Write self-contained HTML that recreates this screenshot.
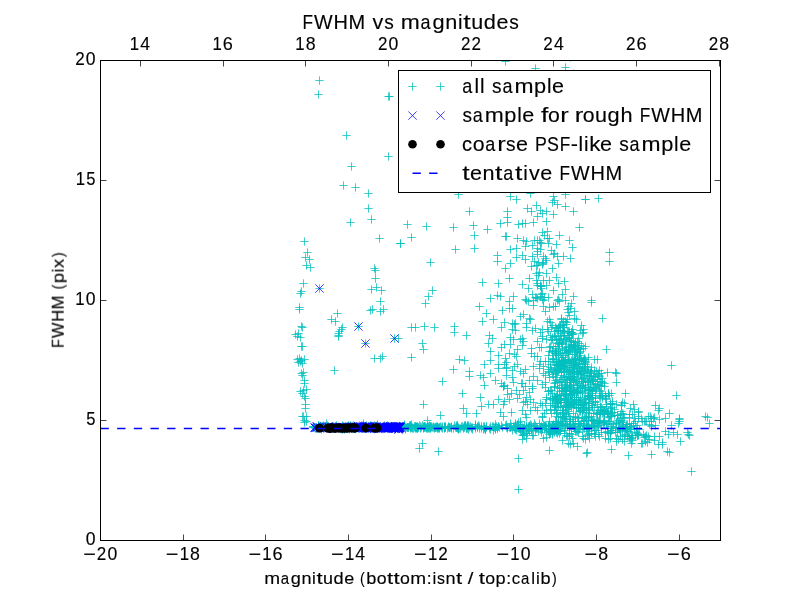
<!DOCTYPE html>
<html><head><meta charset="utf-8"><title>FWHM vs magnitudes</title>
<style>
html,body{margin:0;padding:0;background:#fff;}
body{width:800px;height:600px;overflow:hidden;}
svg{display:block;}
text{font-family:"Liberation Sans",sans-serif;fill:#000;stroke:#000;stroke-width:0.15px;}
</style></head><body>
<svg width="800" height="600" viewBox="0 0 800 600">
<rect width="800" height="600" fill="#fff"/>
<defs><clipPath id="ax"><rect x="100.5" y="60.5" width="620" height="480"/></clipPath></defs>
<g clip-path="url(#ax)">
<path d="M315.33 80.5h8.34M319.5 76.33v8.34M314.33 94.5h8.34M318.5 90.33v8.34M384.33 96.5h8.34M388.5 92.33v8.34M385.33 96.5h8.34M389.5 92.33v8.34M342.33 135.5h8.34M346.5 131.33v8.34M384.33 156.5h8.34M388.5 152.33v8.34M347.33 166.5h8.34M351.5 162.33v8.34M339.33 185.5h8.34M343.5 181.33v8.34M351.33 187.5h8.34M355.5 183.33v8.34M364.33 193.5h8.34M368.5 189.33v8.34M364.33 208.5h8.34M368.5 204.33v8.34M367.33 219.5h8.34M371.5 215.33v8.34M346.33 222.5h8.34M350.5 218.33v8.34M403.33 224.5h8.34M407.5 220.33v8.34M422.33 226.5h8.34M426.5 222.33v8.34M407.33 237.5h8.34M411.5 233.33v8.34M396.33 243.5h8.34M400.5 239.33v8.34M396.33 243.5h8.34M400.5 239.33v8.34M375.33 238.5h8.34M379.5 234.33v8.34M300.33 241.5h8.34M304.5 237.33v8.34M303.33 252.5h8.34M307.5 248.33v8.34M301.33 257.5h8.34M305.5 253.33v8.34M305.33 259.5h8.34M309.5 255.33v8.34M302.33 265.5h8.34M306.5 261.33v8.34M306.33 267.5h8.34M310.5 263.33v8.34M426.33 262.5h8.34M430.5 258.33v8.34M370.33 268.5h8.34M374.5 264.33v8.34M371.33 270.5h8.34M375.5 266.33v8.34M371.33 278.5h8.34M375.5 274.33v8.34M299.33 283.5h8.34M303.5 279.33v8.34M315.33 288.5h8.34M319.5 284.33v8.34M297.33 291.5h8.34M301.5 287.33v8.34M296.33 293.5h8.34M300.5 289.33v8.34M367.33 289.5h8.34M371.5 285.33v8.34M372.33 287.5h8.34M376.5 283.33v8.34M377.33 290.5h8.34M381.5 286.33v8.34M428.33 290.5h8.34M432.5 286.33v8.34M424.33 296.5h8.34M428.5 292.33v8.34M295.33 307.5h8.34M299.5 303.33v8.34M295.33 309.5h8.34M299.5 305.33v8.34M376.33 301.5h8.34M380.5 297.33v8.34M421.33 303.5h8.34M425.5 299.33v8.34M366.33 310.5h8.34M370.5 306.33v8.34M368.33 309.5h8.34M372.5 305.33v8.34M376.33 311.5h8.34M380.5 307.33v8.34M379.33 309.5h8.34M383.5 305.33v8.34M333.33 313.5h8.34M337.5 309.33v8.34M327.33 319.5h8.34M331.5 315.33v8.34M331.33 321.5h8.34M335.5 317.33v8.34M354.33 326.5h8.34M358.5 322.33v8.34M297.33 326.5h8.34M301.5 322.33v8.34M298.33 327.5h8.34M302.5 323.33v8.34M338.33 327.5h8.34M342.5 323.33v8.34M337.33 329.5h8.34M341.5 325.33v8.34M335.33 331.5h8.34M339.5 327.33v8.34M334.33 333.5h8.34M338.5 329.33v8.34M334.33 335.5h8.34M338.5 331.33v8.34M334.33 336.5h8.34M338.5 332.33v8.34M291.33 334.5h8.34M295.5 330.33v8.34M294.33 333.5h8.34M298.5 329.33v8.34M296.33 337.5h8.34M300.5 333.33v8.34M293.33 336.5h8.34M297.5 332.33v8.34M407.33 327.5h8.34M411.5 323.33v8.34M411.33 327.5h8.34M415.5 323.33v8.34M420.33 326.5h8.34M424.5 322.33v8.34M430.33 327.5h8.34M434.5 323.33v8.34M390.33 338.5h8.34M394.5 334.33v8.34M394.33 338.5h8.34M398.5 334.33v8.34M361.33 343.5h8.34M365.5 339.33v8.34M418.33 343.5h8.34M422.5 339.33v8.34M419.33 349.5h8.34M423.5 345.33v8.34M297.33 346.5h8.34M301.5 342.33v8.34M298.33 346.5h8.34M302.5 342.33v8.34M370.33 358.5h8.34M374.5 354.33v8.34M376.33 358.5h8.34M380.5 354.33v8.34M378.33 356.5h8.34M382.5 352.33v8.34M407.33 357.5h8.34M411.5 353.33v8.34M293.33 359.5h8.34M297.5 355.33v8.34M295.33 358.5h8.34M299.5 354.33v8.34M297.33 360.5h8.34M301.5 356.33v8.34M300.33 359.5h8.34M304.5 355.33v8.34M298.33 363.5h8.34M302.5 359.33v8.34M296.33 361.5h8.34M300.5 357.33v8.34M294.33 362.5h8.34M298.5 358.33v8.34M330.33 370.5h8.34M334.5 366.33v8.34M297.33 373.5h8.34M301.5 369.33v8.34M299.33 372.5h8.34M303.5 368.33v8.34M298.33 375.5h8.34M302.5 371.33v8.34M300.33 380.5h8.34M304.5 376.33v8.34M300.33 383.5h8.34M304.5 379.33v8.34M438.33 381.5h8.34M442.5 377.33v8.34M296.33 391.5h8.34M300.5 387.33v8.34M299.33 390.5h8.34M303.5 386.33v8.34M302.33 389.5h8.34M306.5 385.33v8.34M298.33 393.5h8.34M302.5 389.33v8.34M300.33 396.5h8.34M304.5 392.33v8.34M301.33 398.5h8.34M305.5 394.33v8.34M419.33 404.5h8.34M423.5 400.33v8.34M301.33 404.5h8.34M305.5 400.33v8.34M301.33 408.5h8.34M305.5 404.33v8.34M298.33 416.5h8.34M302.5 412.33v8.34M302.33 416.5h8.34M306.5 412.33v8.34M436.33 415.5h8.34M440.5 411.33v8.34M299.33 416.5h8.34M303.5 412.33v8.34M300.33 420.5h8.34M304.5 416.33v8.34M302.33 421.5h8.34M306.5 417.33v8.34M423.33 420.5h8.34M427.5 416.33v8.34M322.33 423.5h8.34M326.5 419.33v8.34M359.33 423.5h8.34M363.5 419.33v8.34M418.33 443.5h8.34M422.5 439.33v8.34M415.33 448.5h8.34M419.5 444.33v8.34M434.33 451.5h8.34M438.5 447.33v8.34M300.33 422.5h8.34M304.5 418.33v8.34M501.33 61.5h8.34M505.5 57.33v8.34M531.33 68.5h8.34M535.5 64.33v8.34M561.33 67.5h8.34M565.5 63.33v8.34M569.33 73.5h8.34M573.5 69.33v8.34M566.33 57.5h8.34M570.5 53.33v8.34M454.33 194.5h8.34M458.5 190.33v8.34M506.33 196.5h8.34M510.5 192.33v8.34M512.33 199.5h8.34M516.5 195.33v8.34M526.33 193.5h8.34M530.5 189.33v8.34M549.33 196.5h8.34M553.5 192.33v8.34M550.33 200.5h8.34M554.5 196.33v8.34M548.33 202.5h8.34M552.5 198.33v8.34M553.33 204.5h8.34M557.5 200.33v8.34M561.33 206.5h8.34M565.5 202.33v8.34M561.33 194.5h8.34M565.5 190.33v8.34M581.33 199.5h8.34M585.5 195.33v8.34M594.33 198.5h8.34M598.5 194.33v8.34M465.33 211.5h8.34M469.5 207.33v8.34M503.33 211.5h8.34M507.5 207.33v8.34M503.33 217.5h8.34M507.5 213.33v8.34M503.33 222.5h8.34M507.5 218.33v8.34M523.33 208.5h8.34M527.5 204.33v8.34M527.33 211.5h8.34M531.5 207.33v8.34M532.33 205.5h8.34M536.5 201.33v8.34M536.33 210.5h8.34M540.5 206.33v8.34M538.33 213.5h8.34M542.5 209.33v8.34M542.33 211.5h8.34M546.5 207.33v8.34M533.33 216.5h8.34M537.5 212.33v8.34M549.33 214.5h8.34M553.5 210.33v8.34M569.33 211.5h8.34M573.5 207.33v8.34M542.33 221.5h8.34M546.5 217.33v8.34M496.33 223.5h8.34M500.5 219.33v8.34M514.33 224.5h8.34M518.5 220.33v8.34M518.33 223.5h8.34M522.5 219.33v8.34M521.33 223.5h8.34M525.5 219.33v8.34M529.33 222.5h8.34M533.5 218.33v8.34M449.33 227.5h8.34M453.5 223.33v8.34M469.33 225.5h8.34M473.5 221.33v8.34M483.33 229.5h8.34M487.5 225.33v8.34M575.33 227.5h8.34M579.5 223.33v8.34M470.33 235.5h8.34M474.5 231.33v8.34M501.33 236.5h8.34M505.5 232.33v8.34M502.33 236.5h8.34M506.5 232.33v8.34M513.33 238.5h8.34M517.5 234.33v8.34M519.33 240.5h8.34M523.5 236.33v8.34M522.33 241.5h8.34M526.5 237.33v8.34M538.33 232.5h8.34M542.5 228.33v8.34M543.33 231.5h8.34M547.5 227.33v8.34M540.33 235.5h8.34M544.5 231.33v8.34M555.33 235.5h8.34M559.5 231.33v8.34M533.33 240.5h8.34M537.5 236.33v8.34M536.33 242.5h8.34M540.5 238.33v8.34M543.33 238.5h8.34M547.5 234.33v8.34M544.33 243.5h8.34M548.5 239.33v8.34M565.33 240.5h8.34M569.5 236.33v8.34M451.33 249.5h8.34M455.5 245.33v8.34M470.33 248.5h8.34M474.5 244.33v8.34M506.33 249.5h8.34M510.5 245.33v8.34M512.33 248.5h8.34M516.5 244.33v8.34M521.33 246.5h8.34M525.5 242.33v8.34M528.33 245.5h8.34M532.5 241.33v8.34M552.33 244.5h8.34M556.5 240.33v8.34M547.33 250.5h8.34M551.5 246.33v8.34M568.33 247.5h8.34M572.5 243.33v8.34M493.33 255.5h8.34M497.5 251.33v8.34M493.33 261.5h8.34M497.5 257.33v8.34M518.33 255.5h8.34M522.5 251.33v8.34M512.33 257.5h8.34M516.5 253.33v8.34M533.33 254.5h8.34M537.5 250.33v8.34M536.33 249.5h8.34M540.5 245.33v8.34M553.33 256.5h8.34M557.5 252.33v8.34M559.33 256.5h8.34M563.5 252.33v8.34M566.33 258.5h8.34M570.5 254.33v8.34M506.33 263.5h8.34M510.5 259.33v8.34M501.33 268.5h8.34M505.5 264.33v8.34M530.33 261.5h8.34M534.5 257.33v8.34M527.33 266.5h8.34M531.5 262.33v8.34M533.33 265.5h8.34M537.5 261.33v8.34M538.33 263.5h8.34M542.5 259.33v8.34M554.33 263.5h8.34M558.5 259.33v8.34M548.33 268.5h8.34M552.5 264.33v8.34M505.33 278.5h8.34M509.5 274.33v8.34M478.33 282.5h8.34M482.5 278.33v8.34M494.33 283.5h8.34M498.5 279.33v8.34M518.33 284.5h8.34M522.5 280.33v8.34M525.33 278.5h8.34M529.5 274.33v8.34M533.33 283.5h8.34M537.5 279.33v8.34M539.33 280.5h8.34M543.5 276.33v8.34M536.33 286.5h8.34M540.5 282.33v8.34M552.33 277.5h8.34M556.5 273.33v8.34M560.33 281.5h8.34M564.5 277.33v8.34M524.33 288.5h8.34M528.5 284.33v8.34M561.33 289.5h8.34M565.5 285.33v8.34M549.33 290.5h8.34M553.5 286.33v8.34M493.33 295.5h8.34M497.5 291.33v8.34M496.33 296.5h8.34M500.5 292.33v8.34M509.33 296.5h8.34M513.5 292.33v8.34M528.33 294.5h8.34M532.5 290.33v8.34M536.33 296.5h8.34M540.5 292.33v8.34M558.33 294.5h8.34M562.5 290.33v8.34M569.33 296.5h8.34M573.5 292.33v8.34M486.33 298.5h8.34M490.5 294.33v8.34M475.33 306.5h8.34M479.5 302.33v8.34M482.33 313.5h8.34M486.5 309.33v8.34M478.33 321.5h8.34M482.5 317.33v8.34M489.33 319.5h8.34M493.5 315.33v8.34M450.33 326.5h8.34M454.5 322.33v8.34M450.33 332.5h8.34M454.5 328.33v8.34M462.33 335.5h8.34M466.5 331.33v8.34M505.33 308.5h8.34M509.5 304.33v8.34M508.33 308.5h8.34M512.5 304.33v8.34M500.33 322.5h8.34M504.5 318.33v8.34M497.33 327.5h8.34M501.5 323.33v8.34M510.33 324.5h8.34M514.5 320.33v8.34M519.33 314.5h8.34M523.5 310.33v8.34M484.33 343.5h8.34M488.5 339.33v8.34M500.33 344.5h8.34M504.5 340.33v8.34M486.33 351.5h8.34M490.5 347.33v8.34M494.33 355.5h8.34M498.5 351.33v8.34M455.33 359.5h8.34M459.5 355.33v8.34M460.33 360.5h8.34M464.5 356.33v8.34M449.33 369.5h8.34M453.5 365.33v8.34M465.33 371.5h8.34M469.5 367.33v8.34M465.33 376.5h8.34M469.5 372.33v8.34M480.33 364.5h8.34M484.5 360.33v8.34M494.33 364.5h8.34M498.5 360.33v8.34M502.33 367.5h8.34M506.5 363.33v8.34M502.33 375.5h8.34M506.5 371.33v8.34M476.33 375.5h8.34M480.5 371.33v8.34M479.33 377.5h8.34M483.5 373.33v8.34M486.33 373.5h8.34M490.5 369.33v8.34M491.33 380.5h8.34M495.5 376.33v8.34M497.33 383.5h8.34M501.5 379.33v8.34M480.33 385.5h8.34M484.5 381.33v8.34M509.33 382.5h8.34M513.5 378.33v8.34M458.33 393.5h8.34M462.5 389.33v8.34M494.33 399.5h8.34M498.5 395.33v8.34M499.33 404.5h8.34M503.5 400.33v8.34M459.33 408.5h8.34M463.5 404.33v8.34M462.33 413.5h8.34M466.5 409.33v8.34M472.33 413.5h8.34M476.5 409.33v8.34M505.33 353.5h8.34M509.5 349.33v8.34M512.33 356.5h8.34M516.5 352.33v8.34M521.33 369.5h8.34M525.5 365.33v8.34M516.33 371.5h8.34M520.5 367.33v8.34M527.33 353.5h8.34M531.5 349.33v8.34M514.33 458.5h8.34M518.5 454.33v8.34M514.33 489.5h8.34M518.5 485.33v8.34M518.33 439.5h8.34M522.5 435.33v8.34M582.33 453.5h8.34M586.5 449.33v8.34M573.33 446.5h8.34M577.5 442.33v8.34M581.33 199.5h8.34M585.5 195.33v8.34M605.33 252.5h8.34M609.5 248.33v8.34M605.33 261.5h8.34M609.5 257.33v8.34M587.33 300.5h8.34M591.5 296.33v8.34M587.33 302.5h8.34M591.5 298.33v8.34M598.33 318.5h8.34M602.5 314.33v8.34M602.33 349.5h8.34M606.5 345.33v8.34M667.33 365.5h8.34M671.5 361.33v8.34M672.33 395.5h8.34M676.5 391.33v8.34M611.33 372.5h8.34M615.5 368.33v8.34M612.33 373.5h8.34M616.5 369.33v8.34M612.33 382.5h8.34M616.5 378.33v8.34M590.33 359.5h8.34M594.5 355.33v8.34M593.33 359.5h8.34M597.5 355.33v8.34M595.33 370.5h8.34M599.5 366.33v8.34M621.33 393.5h8.34M625.5 389.33v8.34M620.33 403.5h8.34M624.5 399.33v8.34M651.33 405.5h8.34M655.5 401.33v8.34M654.33 410.5h8.34M658.5 406.33v8.34M665.33 413.5h8.34M669.5 409.33v8.34M644.33 416.5h8.34M648.5 412.33v8.34M701.33 416.5h8.34M705.5 412.33v8.34M703.33 417.5h8.34M707.5 413.33v8.34M675.33 418.5h8.34M679.5 414.33v8.34M630.33 409.5h8.34M634.5 405.33v8.34M634.33 411.5h8.34M638.5 407.33v8.34M626.33 408.5h8.34M630.5 404.33v8.34M687.33 471.5h8.34M691.5 467.33v8.34M624.33 455.5h8.34M628.5 451.33v8.34M647.33 454.5h8.34M651.5 450.33v8.34M663.33 451.5h8.34M667.5 447.33v8.34M665.33 452.5h8.34M669.5 448.33v8.34M676.33 441.5h8.34M680.5 437.33v8.34M654.33 444.5h8.34M658.5 440.33v8.34M628.33 440.5h8.34M632.5 436.33v8.34M583.33 452.5h8.34M587.5 448.33v8.34M607.33 449.5h8.34M611.5 445.33v8.34M684.33 434.5h8.34M688.5 430.33v8.34M685.33 435.5h8.34M689.5 431.33v8.34M683.33 432.5h8.34M687.5 428.33v8.34M673.33 434.5h8.34M677.5 430.33v8.34M669.33 432.5h8.34M673.5 428.33v8.34M661.33 431.5h8.34M665.5 427.33v8.34M655.33 436.5h8.34M659.5 432.33v8.34M667.33 425.5h8.34M671.5 421.33v8.34M675.33 419.5h8.34M679.5 415.33v8.34M675.33 421.5h8.34M679.5 417.33v8.34M674.33 423.5h8.34M678.5 419.33v8.34M705.33 423.5h8.34M709.5 419.33v8.34M655.33 419.5h8.34M659.5 415.33v8.34M647.33 421.5h8.34M651.5 417.33v8.34M641.33 421.5h8.34M645.5 417.33v8.34M639.33 434.5h8.34M643.5 430.33v8.34M641.33 436.5h8.34M645.5 432.33v8.34M645.33 439.5h8.34M649.5 435.33v8.34M650.33 440.5h8.34M654.5 436.33v8.34M388.33 428.5h8.34M392.5 424.33v8.34M326.33 428.5h8.34M330.5 424.33v8.34M441.33 427.5h8.34M445.5 423.33v8.34M434.33 427.5h8.34M438.5 423.33v8.34M318.33 426.5h8.34M322.5 422.33v8.34M331.33 427.5h8.34M335.5 423.33v8.34M413.33 427.5h8.34M417.5 423.33v8.34M364.33 426.5h8.34M368.5 422.33v8.34M463.33 428.5h8.34M467.5 424.33v8.34M406.33 426.5h8.34M410.5 422.33v8.34M550.33 432.5h8.34M554.5 428.33v8.34M380.33 427.5h8.34M384.5 423.33v8.34M344.33 427.5h8.34M348.5 423.33v8.34M510.33 428.5h8.34M514.5 424.33v8.34M353.33 426.5h8.34M357.5 422.33v8.34M400.33 426.5h8.34M404.5 422.33v8.34M444.33 427.5h8.34M448.5 423.33v8.34M359.33 427.5h8.34M363.5 423.33v8.34M477.33 426.5h8.34M481.5 422.33v8.34M453.33 427.5h8.34M457.5 423.33v8.34M420.33 426.5h8.34M424.5 422.33v8.34M481.33 429.5h8.34M485.5 425.33v8.34M369.33 426.5h8.34M373.5 422.33v8.34M525.33 426.5h8.34M529.5 422.33v8.34M489.33 426.5h8.34M493.5 422.33v8.34M338.33 429.5h8.34M342.5 425.33v8.34M412.33 427.5h8.34M416.5 423.33v8.34M429.33 426.5h8.34M433.5 422.33v8.34M318.33 426.5h8.34M322.5 422.33v8.34M450.33 425.5h8.34M454.5 421.33v8.34M525.33 425.5h8.34M529.5 421.33v8.34M455.33 428.5h8.34M459.5 424.33v8.34M452.33 425.5h8.34M456.5 421.33v8.34M542.33 428.5h8.34M546.5 424.33v8.34M426.33 427.5h8.34M430.5 423.33v8.34M482.33 426.5h8.34M486.5 422.33v8.34M468.33 429.5h8.34M472.5 425.33v8.34M379.33 427.5h8.34M383.5 423.33v8.34M404.33 427.5h8.34M408.5 423.33v8.34M423.33 427.5h8.34M427.5 423.33v8.34M350.33 427.5h8.34M354.5 423.33v8.34M498.33 427.5h8.34M502.5 423.33v8.34M340.33 427.5h8.34M344.5 423.33v8.34M524.33 429.5h8.34M528.5 425.33v8.34M328.33 426.5h8.34M332.5 422.33v8.34M527.33 428.5h8.34M531.5 424.33v8.34M511.33 428.5h8.34M515.5 424.33v8.34M411.33 426.5h8.34M415.5 422.33v8.34M397.33 428.5h8.34M401.5 424.33v8.34M346.33 425.5h8.34M350.5 421.33v8.34M352.33 427.5h8.34M356.5 423.33v8.34M428.33 427.5h8.34M432.5 423.33v8.34M454.33 427.5h8.34M458.5 423.33v8.34M412.33 427.5h8.34M416.5 423.33v8.34M400.33 425.5h8.34M404.5 421.33v8.34M479.33 426.5h8.34M483.5 422.33v8.34M436.33 426.5h8.34M440.5 422.33v8.34M322.33 426.5h8.34M326.5 422.33v8.34M531.33 428.5h8.34M535.5 424.33v8.34M506.33 423.5h8.34M510.5 419.33v8.34M405.33 426.5h8.34M409.5 422.33v8.34M465.33 427.5h8.34M469.5 423.33v8.34M324.33 427.5h8.34M328.5 423.33v8.34M349.33 427.5h8.34M353.5 423.33v8.34M392.33 427.5h8.34M396.5 423.33v8.34M346.33 427.5h8.34M350.5 423.33v8.34M334.33 427.5h8.34M338.5 423.33v8.34M524.33 427.5h8.34M528.5 423.33v8.34M460.33 427.5h8.34M464.5 423.33v8.34M394.33 427.5h8.34M398.5 423.33v8.34M398.33 428.5h8.34M402.5 424.33v8.34M554.33 431.5h8.34M558.5 427.33v8.34M424.33 426.5h8.34M428.5 422.33v8.34M334.33 427.5h8.34M338.5 423.33v8.34M393.33 427.5h8.34M397.5 423.33v8.34M348.33 428.5h8.34M352.5 424.33v8.34M314.33 428.5h8.34M318.5 424.33v8.34M345.33 426.5h8.34M349.5 422.33v8.34M443.33 428.5h8.34M447.5 424.33v8.34M550.33 427.5h8.34M554.5 423.33v8.34M522.33 426.5h8.34M526.5 422.33v8.34M399.33 426.5h8.34M403.5 422.33v8.34M350.33 427.5h8.34M354.5 423.33v8.34M501.33 425.5h8.34M505.5 421.33v8.34M390.33 427.5h8.34M394.5 423.33v8.34M552.33 432.5h8.34M556.5 428.33v8.34M519.33 428.5h8.34M523.5 424.33v8.34M491.33 424.5h8.34M495.5 420.33v8.34M365.33 426.5h8.34M369.5 422.33v8.34M316.33 427.5h8.34M320.5 423.33v8.34M315.33 427.5h8.34M319.5 423.33v8.34M480.33 428.5h8.34M484.5 424.33v8.34M545.33 421.5h8.34M549.5 417.33v8.34M553.33 429.5h8.34M557.5 425.33v8.34M544.33 426.5h8.34M548.5 422.33v8.34M365.33 427.5h8.34M369.5 423.33v8.34M357.33 427.5h8.34M361.5 423.33v8.34M531.33 430.5h8.34M535.5 426.33v8.34M516.33 424.5h8.34M520.5 420.33v8.34M506.33 427.5h8.34M510.5 423.33v8.34M329.33 426.5h8.34M333.5 422.33v8.34M502.33 424.5h8.34M506.5 420.33v8.34M494.33 426.5h8.34M498.5 422.33v8.34M503.33 427.5h8.34M507.5 423.33v8.34M391.33 428.5h8.34M395.5 424.33v8.34M406.33 425.5h8.34M410.5 421.33v8.34M408.33 428.5h8.34M412.5 424.33v8.34M350.33 426.5h8.34M354.5 422.33v8.34M340.33 428.5h8.34M344.5 424.33v8.34M508.33 430.5h8.34M512.5 426.33v8.34M345.33 428.5h8.34M349.5 424.33v8.34M471.33 424.5h8.34M475.5 420.33v8.34M395.33 426.5h8.34M399.5 422.33v8.34M312.33 427.5h8.34M316.5 423.33v8.34M548.33 425.5h8.34M552.5 421.33v8.34M539.33 424.5h8.34M543.5 420.33v8.34M416.33 428.5h8.34M420.5 424.33v8.34M361.33 426.5h8.34M365.5 422.33v8.34M371.33 427.5h8.34M375.5 423.33v8.34M453.33 427.5h8.34M457.5 423.33v8.34M373.33 426.5h8.34M377.5 422.33v8.34M533.33 427.5h8.34M537.5 423.33v8.34M396.33 426.5h8.34M400.5 422.33v8.34M532.33 428.5h8.34M536.5 424.33v8.34M412.33 428.5h8.34M416.5 424.33v8.34M440.33 426.5h8.34M444.5 422.33v8.34M438.33 428.5h8.34M442.5 424.33v8.34M354.33 427.5h8.34M358.5 423.33v8.34M309.33 427.5h8.34M313.5 423.33v8.34M425.33 426.5h8.34M429.5 422.33v8.34M488.33 426.5h8.34M492.5 422.33v8.34M437.33 427.5h8.34M441.5 423.33v8.34M446.33 427.5h8.34M450.5 423.33v8.34M447.33 426.5h8.34M451.5 422.33v8.34M370.33 427.5h8.34M374.5 423.33v8.34M434.33 428.5h8.34M438.5 424.33v8.34M447.33 427.5h8.34M451.5 423.33v8.34M418.33 425.5h8.34M422.5 421.33v8.34M460.33 426.5h8.34M464.5 422.33v8.34M480.33 427.5h8.34M484.5 423.33v8.34M420.33 426.5h8.34M424.5 422.33v8.34M541.33 426.5h8.34M545.5 422.33v8.34M481.33 429.5h8.34M485.5 425.33v8.34M373.33 425.5h8.34M377.5 421.33v8.34M447.33 428.5h8.34M451.5 424.33v8.34M342.33 426.5h8.34M346.5 422.33v8.34M339.33 426.5h8.34M343.5 422.33v8.34M368.33 427.5h8.34M372.5 423.33v8.34M327.33 426.5h8.34M331.5 422.33v8.34M530.33 423.5h8.34M534.5 419.33v8.34M347.33 427.5h8.34M351.5 423.33v8.34M344.33 426.5h8.34M348.5 422.33v8.34M527.33 428.5h8.34M531.5 424.33v8.34M544.33 426.5h8.34M548.5 422.33v8.34M407.33 424.5h8.34M411.5 420.33v8.34M514.33 427.5h8.34M518.5 423.33v8.34M348.33 426.5h8.34M352.5 422.33v8.34M392.33 427.5h8.34M396.5 423.33v8.34M357.33 426.5h8.34M361.5 422.33v8.34M313.33 428.5h8.34M317.5 424.33v8.34M445.33 427.5h8.34M449.5 423.33v8.34M390.33 427.5h8.34M394.5 423.33v8.34M463.33 426.5h8.34M467.5 422.33v8.34M552.33 427.5h8.34M556.5 423.33v8.34M503.33 428.5h8.34M507.5 424.33v8.34M374.33 427.5h8.34M378.5 423.33v8.34M318.33 427.5h8.34M322.5 423.33v8.34M341.33 426.5h8.34M345.5 422.33v8.34M413.33 428.5h8.34M417.5 424.33v8.34M372.33 426.5h8.34M376.5 422.33v8.34M345.33 428.5h8.34M349.5 424.33v8.34M482.33 426.5h8.34M486.5 422.33v8.34M331.33 428.5h8.34M335.5 424.33v8.34M414.33 427.5h8.34M418.5 423.33v8.34M326.33 428.5h8.34M330.5 424.33v8.34M507.33 426.5h8.34M511.5 422.33v8.34M329.33 427.5h8.34M333.5 423.33v8.34M522.33 426.5h8.34M526.5 422.33v8.34M421.33 426.5h8.34M425.5 422.33v8.34M537.33 429.5h8.34M541.5 425.33v8.34M375.33 428.5h8.34M379.5 424.33v8.34M367.33 428.5h8.34M371.5 424.33v8.34M336.33 427.5h8.34M340.5 423.33v8.34M358.33 427.5h8.34M362.5 423.33v8.34M386.33 426.5h8.34M390.5 422.33v8.34M380.33 428.5h8.34M384.5 424.33v8.34M432.33 427.5h8.34M436.5 423.33v8.34M313.33 428.5h8.34M317.5 424.33v8.34M370.33 428.5h8.34M374.5 424.33v8.34M445.33 427.5h8.34M449.5 423.33v8.34M355.33 425.5h8.34M359.5 421.33v8.34M335.33 427.5h8.34M339.5 423.33v8.34M511.33 425.5h8.34M515.5 421.33v8.34M515.33 428.5h8.34M519.5 424.33v8.34M406.33 425.5h8.34M410.5 421.33v8.34M551.33 427.5h8.34M555.5 423.33v8.34M393.33 427.5h8.34M397.5 423.33v8.34M466.33 426.5h8.34M470.5 422.33v8.34M408.33 427.5h8.34M412.5 423.33v8.34M341.33 427.5h8.34M345.5 423.33v8.34M326.33 427.5h8.34M330.5 423.33v8.34M349.33 426.5h8.34M353.5 422.33v8.34M329.33 428.5h8.34M333.5 424.33v8.34M474.33 425.5h8.34M478.5 421.33v8.34M378.33 427.5h8.34M382.5 423.33v8.34M422.33 428.5h8.34M426.5 424.33v8.34M347.33 426.5h8.34M351.5 422.33v8.34M546.33 428.5h8.34M550.5 424.33v8.34M549.33 425.5h8.34M553.5 421.33v8.34M547.33 426.5h8.34M551.5 422.33v8.34M385.33 427.5h8.34M389.5 423.33v8.34M403.33 427.5h8.34M407.5 423.33v8.34M426.33 426.5h8.34M430.5 422.33v8.34M433.33 427.5h8.34M437.5 423.33v8.34M310.33 427.5h8.34M314.5 423.33v8.34M407.33 427.5h8.34M411.5 423.33v8.34M319.33 428.5h8.34M323.5 424.33v8.34M366.33 427.5h8.34M370.5 423.33v8.34M453.33 425.5h8.34M457.5 421.33v8.34M471.33 426.5h8.34M475.5 422.33v8.34M485.33 428.5h8.34M489.5 424.33v8.34M389.33 426.5h8.34M393.5 422.33v8.34M552.33 429.5h8.34M556.5 425.33v8.34M467.33 428.5h8.34M471.5 424.33v8.34M319.33 428.5h8.34M323.5 424.33v8.34M463.33 425.5h8.34M467.5 421.33v8.34M490.33 427.5h8.34M494.5 423.33v8.34M438.33 426.5h8.34M442.5 422.33v8.34M433.33 428.5h8.34M437.5 424.33v8.34M513.33 424.5h8.34M517.5 420.33v8.34M453.33 428.5h8.34M457.5 424.33v8.34M480.33 426.5h8.34M484.5 422.33v8.34M365.33 427.5h8.34M369.5 423.33v8.34M398.33 427.5h8.34M402.5 423.33v8.34M334.33 427.5h8.34M338.5 423.33v8.34M464.33 426.5h8.34M468.5 422.33v8.34M463.33 426.5h8.34M467.5 422.33v8.34M309.33 426.5h8.34M313.5 422.33v8.34M506.33 427.5h8.34M510.5 423.33v8.34M441.33 426.5h8.34M445.5 422.33v8.34M471.33 428.5h8.34M475.5 424.33v8.34M371.33 427.5h8.34M375.5 423.33v8.34M327.33 427.5h8.34M331.5 423.33v8.34M359.33 428.5h8.34M363.5 424.33v8.34M491.33 428.5h8.34M495.5 424.33v8.34M403.33 427.5h8.34M407.5 423.33v8.34M427.33 426.5h8.34M431.5 422.33v8.34M461.33 425.5h8.34M465.5 421.33v8.34M467.33 427.5h8.34M471.5 423.33v8.34M371.33 427.5h8.34M375.5 423.33v8.34M492.33 426.5h8.34M496.5 422.33v8.34M312.33 428.5h8.34M316.5 424.33v8.34M323.33 427.5h8.34M327.5 423.33v8.34M479.33 429.5h8.34M483.5 425.33v8.34M475.33 426.5h8.34M479.5 422.33v8.34M423.33 428.5h8.34M427.5 424.33v8.34M424.33 428.5h8.34M428.5 424.33v8.34M358.33 428.5h8.34M362.5 424.33v8.34M550.33 427.5h8.34M554.5 423.33v8.34M422.33 427.5h8.34M426.5 423.33v8.34M511.33 429.5h8.34M515.5 425.33v8.34M375.33 427.5h8.34M379.5 423.33v8.34M360.33 427.5h8.34M364.5 423.33v8.34M452.33 427.5h8.34M456.5 423.33v8.34M344.33 425.5h8.34M348.5 421.33v8.34M341.33 426.5h8.34M345.5 422.33v8.34M511.33 423.5h8.34M515.5 419.33v8.34M482.33 427.5h8.34M486.5 423.33v8.34M366.33 428.5h8.34M370.5 424.33v8.34M315.33 426.5h8.34M319.5 422.33v8.34M309.33 426.5h8.34M313.5 422.33v8.34M383.33 427.5h8.34M387.5 423.33v8.34M343.33 426.5h8.34M347.5 422.33v8.34M516.33 428.5h8.34M520.5 424.33v8.34M309.33 427.5h8.34M313.5 423.33v8.34M338.33 425.5h8.34M342.5 421.33v8.34M537.33 426.5h8.34M541.5 422.33v8.34M380.33 425.5h8.34M384.5 421.33v8.34M400.33 424.5h8.34M404.5 420.33v8.34M454.33 429.5h8.34M458.5 425.33v8.34M398.33 426.5h8.34M402.5 422.33v8.34M320.33 427.5h8.34M324.5 423.33v8.34M334.33 427.5h8.34M338.5 423.33v8.34M540.33 425.5h8.34M544.5 421.33v8.34M370.33 427.5h8.34M374.5 423.33v8.34M355.33 428.5h8.34M359.5 424.33v8.34M401.33 429.5h8.34M405.5 425.33v8.34M509.33 426.5h8.34M513.5 422.33v8.34M464.33 429.5h8.34M468.5 425.33v8.34M444.33 426.5h8.34M448.5 422.33v8.34M486.33 429.5h8.34M490.5 425.33v8.34M420.33 427.5h8.34M424.5 423.33v8.34M494.33 426.5h8.34M498.5 422.33v8.34M321.33 426.5h8.34M325.5 422.33v8.34M537.33 429.5h8.34M541.5 425.33v8.34M393.33 428.5h8.34M397.5 424.33v8.34M382.33 427.5h8.34M386.5 423.33v8.34M373.33 424.5h8.34M377.5 420.33v8.34M471.33 426.5h8.34M475.5 422.33v8.34M406.33 428.5h8.34M410.5 424.33v8.34M350.33 427.5h8.34M354.5 423.33v8.34M532.33 428.5h8.34M536.5 424.33v8.34M431.33 427.5h8.34M435.5 423.33v8.34M555.33 433.5h8.34M559.5 429.33v8.34M420.33 427.5h8.34M424.5 423.33v8.34M331.33 427.5h8.34M335.5 423.33v8.34M393.33 427.5h8.34M397.5 423.33v8.34M372.33 427.5h8.34M376.5 423.33v8.34M449.33 428.5h8.34M453.5 424.33v8.34M410.33 426.5h8.34M414.5 422.33v8.34M411.33 426.5h8.34M415.5 422.33v8.34M392.33 427.5h8.34M396.5 423.33v8.34M324.33 426.5h8.34M328.5 422.33v8.34M340.33 429.5h8.34M344.5 425.33v8.34M433.33 426.5h8.34M437.5 422.33v8.34M362.33 425.5h8.34M366.5 421.33v8.34M375.33 427.5h8.34M379.5 423.33v8.34M419.33 428.5h8.34M423.5 424.33v8.34M544.33 430.5h8.34M548.5 426.33v8.34M314.33 425.5h8.34M318.5 421.33v8.34M316.33 426.5h8.34M320.5 422.33v8.34M425.33 425.5h8.34M429.5 421.33v8.34M454.33 428.5h8.34M458.5 424.33v8.34M537.33 427.5h8.34M541.5 423.33v8.34M512.33 430.5h8.34M516.5 426.33v8.34M370.33 425.5h8.34M374.5 421.33v8.34M335.33 427.5h8.34M339.5 423.33v8.34M477.33 428.5h8.34M481.5 424.33v8.34M541.33 426.5h8.34M545.5 422.33v8.34M497.33 425.5h8.34M501.5 421.33v8.34M421.33 427.5h8.34M425.5 423.33v8.34M502.33 427.5h8.34M506.5 423.33v8.34M366.33 428.5h8.34M370.5 424.33v8.34M384.33 426.5h8.34M388.5 422.33v8.34M340.33 427.5h8.34M344.5 423.33v8.34M481.33 429.5h8.34M485.5 425.33v8.34M336.33 428.5h8.34M340.5 424.33v8.34M452.33 427.5h8.34M456.5 423.33v8.34M404.33 427.5h8.34M408.5 423.33v8.34M311.33 428.5h8.34M315.5 424.33v8.34M383.33 425.5h8.34M387.5 421.33v8.34M468.33 427.5h8.34M472.5 423.33v8.34M527.33 425.5h8.34M531.5 421.33v8.34M370.33 427.5h8.34M374.5 423.33v8.34M546.33 426.5h8.34M550.5 422.33v8.34M314.33 426.5h8.34M318.5 422.33v8.34M432.33 426.5h8.34M436.5 422.33v8.34M372.33 426.5h8.34M376.5 422.33v8.34M473.33 427.5h8.34M477.5 423.33v8.34M317.33 427.5h8.34M321.5 423.33v8.34M392.33 426.5h8.34M396.5 422.33v8.34M357.33 427.5h8.34M361.5 423.33v8.34M505.33 427.5h8.34M509.5 423.33v8.34M359.33 426.5h8.34M363.5 422.33v8.34M548.33 425.5h8.34M552.5 421.33v8.34M366.33 428.5h8.34M370.5 424.33v8.34M363.33 427.5h8.34M367.5 423.33v8.34M544.33 425.5h8.34M548.5 421.33v8.34M431.33 427.5h8.34M435.5 423.33v8.34M412.33 427.5h8.34M416.5 423.33v8.34M473.33 427.5h8.34M477.5 423.33v8.34M406.33 427.5h8.34M410.5 423.33v8.34M361.33 427.5h8.34M365.5 423.33v8.34M321.33 427.5h8.34M325.5 423.33v8.34M323.33 425.5h8.34M327.5 421.33v8.34M527.33 430.5h8.34M531.5 426.33v8.34M489.33 430.5h8.34M493.5 426.33v8.34M390.33 427.5h8.34M394.5 423.33v8.34M354.33 428.5h8.34M358.5 424.33v8.34M316.33 426.5h8.34M320.5 422.33v8.34M473.33 426.5h8.34M477.5 422.33v8.34M390.33 427.5h8.34M394.5 423.33v8.34M350.33 428.5h8.34M354.5 424.33v8.34M395.33 427.5h8.34M399.5 423.33v8.34M545.33 432.5h8.34M549.5 428.33v8.34M360.33 428.5h8.34M364.5 424.33v8.34M397.33 428.5h8.34M401.5 424.33v8.34M415.33 425.5h8.34M419.5 421.33v8.34M321.33 426.5h8.34M325.5 422.33v8.34M536.33 427.5h8.34M540.5 423.33v8.34M356.33 426.5h8.34M360.5 422.33v8.34M316.33 428.5h8.34M320.5 424.33v8.34M410.33 427.5h8.34M414.5 423.33v8.34M319.33 425.5h8.34M323.5 421.33v8.34M317.33 429.5h8.34M321.5 425.33v8.34M372.33 428.5h8.34M376.5 424.33v8.34M493.33 428.5h8.34M497.5 424.33v8.34M376.33 426.5h8.34M380.5 422.33v8.34M545.33 425.5h8.34M549.5 421.33v8.34M486.33 426.5h8.34M490.5 422.33v8.34M387.33 427.5h8.34M391.5 423.33v8.34M495.33 427.5h8.34M499.5 423.33v8.34M535.33 423.5h8.34M539.5 419.33v8.34M314.33 425.5h8.34M318.5 421.33v8.34M366.33 425.5h8.34M370.5 421.33v8.34M544.33 428.5h8.34M548.5 424.33v8.34M404.33 427.5h8.34M408.5 423.33v8.34M430.33 428.5h8.34M434.5 424.33v8.34M538.33 429.5h8.34M542.5 425.33v8.34M491.33 429.5h8.34M495.5 425.33v8.34M512.33 427.5h8.34M516.5 423.33v8.34M389.33 426.5h8.34M393.5 422.33v8.34M387.33 426.5h8.34M391.5 422.33v8.34M328.33 428.5h8.34M332.5 424.33v8.34M357.33 427.5h8.34M361.5 423.33v8.34M324.33 426.5h8.34M328.5 422.33v8.34M317.33 426.5h8.34M321.5 422.33v8.34M551.33 426.5h8.34M555.5 422.33v8.34M527.33 429.5h8.34M531.5 425.33v8.34M329.33 427.5h8.34M333.5 423.33v8.34M332.33 425.5h8.34M336.5 421.33v8.34M419.33 427.5h8.34M423.5 423.33v8.34M366.33 426.5h8.34M370.5 422.33v8.34M475.33 428.5h8.34M479.5 424.33v8.34M493.33 428.5h8.34M497.5 424.33v8.34M338.33 426.5h8.34M342.5 422.33v8.34M516.33 426.5h8.34M520.5 422.33v8.34M401.33 428.5h8.34M405.5 424.33v8.34M491.33 427.5h8.34M495.5 423.33v8.34M369.33 427.5h8.34M373.5 423.33v8.34M409.33 428.5h8.34M413.5 424.33v8.34M420.33 426.5h8.34M424.5 422.33v8.34M425.33 428.5h8.34M429.5 424.33v8.34M414.33 427.5h8.34M418.5 423.33v8.34M453.33 425.5h8.34M457.5 421.33v8.34M405.33 425.5h8.34M409.5 421.33v8.34M430.33 427.5h8.34M434.5 423.33v8.34M460.33 425.5h8.34M464.5 421.33v8.34M401.33 427.5h8.34M405.5 423.33v8.34M411.33 427.5h8.34M415.5 423.33v8.34M464.33 425.5h8.34M468.5 421.33v8.34M423.33 426.5h8.34M427.5 422.33v8.34M457.33 426.5h8.34M461.5 422.33v8.34M451.33 427.5h8.34M455.5 423.33v8.34M462.33 428.5h8.34M466.5 424.33v8.34M440.33 427.5h8.34M444.5 423.33v8.34M413.33 427.5h8.34M417.5 423.33v8.34M412.33 427.5h8.34M416.5 423.33v8.34M416.33 426.5h8.34M420.5 422.33v8.34M412.33 426.5h8.34M416.5 422.33v8.34M399.33 426.5h8.34M403.5 422.33v8.34M411.33 428.5h8.34M415.5 424.33v8.34M419.33 427.5h8.34M423.5 423.33v8.34M435.33 428.5h8.34M439.5 424.33v8.34M403.33 427.5h8.34M407.5 423.33v8.34M435.33 427.5h8.34M439.5 423.33v8.34M441.33 427.5h8.34M445.5 423.33v8.34M445.33 427.5h8.34M449.5 423.33v8.34M426.33 427.5h8.34M430.5 423.33v8.34M462.33 427.5h8.34M466.5 423.33v8.34M419.33 426.5h8.34M423.5 422.33v8.34M426.33 426.5h8.34M430.5 422.33v8.34M456.33 428.5h8.34M460.5 424.33v8.34M412.33 427.5h8.34M416.5 423.33v8.34M447.33 427.5h8.34M451.5 423.33v8.34M459.33 427.5h8.34M463.5 423.33v8.34M427.33 427.5h8.34M431.5 423.33v8.34M458.33 426.5h8.34M462.5 422.33v8.34M429.33 427.5h8.34M433.5 423.33v8.34M435.33 427.5h8.34M439.5 423.33v8.34M441.33 427.5h8.34M445.5 423.33v8.34M440.33 427.5h8.34M444.5 423.33v8.34M423.33 426.5h8.34M427.5 422.33v8.34M417.33 427.5h8.34M421.5 423.33v8.34M433.33 427.5h8.34M437.5 423.33v8.34M431.33 427.5h8.34M435.5 423.33v8.34M452.33 427.5h8.34M456.5 423.33v8.34M407.33 427.5h8.34M411.5 423.33v8.34M462.33 428.5h8.34M466.5 424.33v8.34M402.33 427.5h8.34M406.5 423.33v8.34M461.33 425.5h8.34M465.5 421.33v8.34M440.33 428.5h8.34M444.5 424.33v8.34M454.33 428.5h8.34M458.5 424.33v8.34M413.33 428.5h8.34M417.5 424.33v8.34M426.33 428.5h8.34M430.5 424.33v8.34M411.33 426.5h8.34M415.5 422.33v8.34M413.33 426.5h8.34M417.5 422.33v8.34M424.33 427.5h8.34M428.5 423.33v8.34M407.33 427.5h8.34M411.5 423.33v8.34M459.33 428.5h8.34M463.5 424.33v8.34M590.33 425.5h8.34M594.5 421.33v8.34M556.33 338.5h8.34M560.5 334.33v8.34M573.33 387.5h8.34M577.5 383.33v8.34M573.33 389.5h8.34M577.5 385.33v8.34M558.33 363.5h8.34M562.5 359.33v8.34M563.33 331.5h8.34M567.5 327.33v8.34M552.33 339.5h8.34M556.5 335.33v8.34M617.33 420.5h8.34M621.5 416.33v8.34M555.33 365.5h8.34M559.5 361.33v8.34M591.33 376.5h8.34M595.5 372.33v8.34M584.33 407.5h8.34M588.5 403.33v8.34M593.33 374.5h8.34M597.5 370.33v8.34M611.33 428.5h8.34M615.5 424.33v8.34M548.33 351.5h8.34M552.5 347.33v8.34M553.33 372.5h8.34M557.5 368.33v8.34M565.33 379.5h8.34M569.5 375.33v8.34M561.33 382.5h8.34M565.5 378.33v8.34M613.33 415.5h8.34M617.5 411.33v8.34M557.33 385.5h8.34M561.5 381.33v8.34M564.33 359.5h8.34M568.5 355.33v8.34M606.33 408.5h8.34M610.5 404.33v8.34M579.33 329.5h8.34M583.5 325.33v8.34M580.33 358.5h8.34M584.5 354.33v8.34M555.33 344.5h8.34M559.5 340.33v8.34M575.33 424.5h8.34M579.5 420.33v8.34M562.33 322.5h8.34M566.5 318.33v8.34M561.33 382.5h8.34M565.5 378.33v8.34M600.33 423.5h8.34M604.5 419.33v8.34M564.33 404.5h8.34M568.5 400.33v8.34M579.33 372.5h8.34M583.5 368.33v8.34M550.33 336.5h8.34M554.5 332.33v8.34M596.33 407.5h8.34M600.5 403.33v8.34M591.33 423.5h8.34M595.5 419.33v8.34M602.33 404.5h8.34M606.5 400.33v8.34M564.33 397.5h8.34M568.5 393.33v8.34M541.33 361.5h8.34M545.5 357.33v8.34M568.33 369.5h8.34M572.5 365.33v8.34M567.33 340.5h8.34M571.5 336.33v8.34M589.33 383.5h8.34M593.5 379.33v8.34M574.33 363.5h8.34M578.5 359.33v8.34M597.33 427.5h8.34M601.5 423.33v8.34M548.33 403.5h8.34M552.5 399.33v8.34M550.33 368.5h8.34M554.5 364.33v8.34M597.33 373.5h8.34M601.5 369.33v8.34M572.33 392.5h8.34M576.5 388.33v8.34M542.33 410.5h8.34M546.5 406.33v8.34M553.33 399.5h8.34M557.5 395.33v8.34M555.33 340.5h8.34M559.5 336.33v8.34M561.33 362.5h8.34M565.5 358.33v8.34M554.33 327.5h8.34M558.5 323.33v8.34M541.33 403.5h8.34M545.5 399.33v8.34M584.33 398.5h8.34M588.5 394.33v8.34M552.33 362.5h8.34M556.5 358.33v8.34M555.33 361.5h8.34M559.5 357.33v8.34M579.33 404.5h8.34M583.5 400.33v8.34M571.33 380.5h8.34M575.5 376.33v8.34M557.33 357.5h8.34M561.5 353.33v8.34M601.33 395.5h8.34M605.5 391.33v8.34M603.33 372.5h8.34M607.5 368.33v8.34M629.33 423.5h8.34M633.5 419.33v8.34M576.33 374.5h8.34M580.5 370.33v8.34M565.33 425.5h8.34M569.5 421.33v8.34M559.33 393.5h8.34M563.5 389.33v8.34M546.33 398.5h8.34M550.5 394.33v8.34M574.33 404.5h8.34M578.5 400.33v8.34M622.33 429.5h8.34M626.5 425.33v8.34M571.33 359.5h8.34M575.5 355.33v8.34M570.33 359.5h8.34M574.5 355.33v8.34M559.33 417.5h8.34M563.5 413.33v8.34M556.33 364.5h8.34M560.5 360.33v8.34M579.33 360.5h8.34M583.5 356.33v8.34M602.33 398.5h8.34M606.5 394.33v8.34M582.33 412.5h8.34M586.5 408.33v8.34M599.33 411.5h8.34M603.5 407.33v8.34M596.33 422.5h8.34M600.5 418.33v8.34M587.33 373.5h8.34M591.5 369.33v8.34M567.33 404.5h8.34M571.5 400.33v8.34M589.33 421.5h8.34M593.5 417.33v8.34M598.33 409.5h8.34M602.5 405.33v8.34M571.33 404.5h8.34M575.5 400.33v8.34M544.33 369.5h8.34M548.5 365.33v8.34M551.33 398.5h8.34M555.5 394.33v8.34M558.33 413.5h8.34M562.5 409.33v8.34M559.33 361.5h8.34M563.5 357.33v8.34M584.33 390.5h8.34M588.5 386.33v8.34M568.33 329.5h8.34M572.5 325.33v8.34M577.33 345.5h8.34M581.5 341.33v8.34M566.33 387.5h8.34M570.5 383.33v8.34M559.33 327.5h8.34M563.5 323.33v8.34M557.33 371.5h8.34M561.5 367.33v8.34M553.33 423.5h8.34M557.5 419.33v8.34M584.33 403.5h8.34M588.5 399.33v8.34M584.33 417.5h8.34M588.5 413.33v8.34M572.33 364.5h8.34M576.5 360.33v8.34M583.33 376.5h8.34M587.5 372.33v8.34M565.33 406.5h8.34M569.5 402.33v8.34M580.33 368.5h8.34M584.5 364.33v8.34M585.33 395.5h8.34M589.5 391.33v8.34M563.33 335.5h8.34M567.5 331.33v8.34M584.33 420.5h8.34M588.5 416.33v8.34M585.33 403.5h8.34M589.5 399.33v8.34M562.33 377.5h8.34M566.5 373.33v8.34M554.33 365.5h8.34M558.5 361.33v8.34M600.33 410.5h8.34M604.5 406.33v8.34M607.33 416.5h8.34M611.5 412.33v8.34M565.33 382.5h8.34M569.5 378.33v8.34M591.33 388.5h8.34M595.5 384.33v8.34M585.33 375.5h8.34M589.5 371.33v8.34M562.33 405.5h8.34M566.5 401.33v8.34M575.33 364.5h8.34M579.5 360.33v8.34M558.33 330.5h8.34M562.5 326.33v8.34M602.33 406.5h8.34M606.5 402.33v8.34M574.33 418.5h8.34M578.5 414.33v8.34M573.33 385.5h8.34M577.5 381.33v8.34M602.33 424.5h8.34M606.5 420.33v8.34M587.33 405.5h8.34M591.5 401.33v8.34M574.33 400.5h8.34M578.5 396.33v8.34M583.33 382.5h8.34M587.5 378.33v8.34M590.33 376.5h8.34M594.5 372.33v8.34M579.33 381.5h8.34M583.5 377.33v8.34M581.33 382.5h8.34M585.5 378.33v8.34M560.33 369.5h8.34M564.5 365.33v8.34M575.33 371.5h8.34M579.5 367.33v8.34M567.33 391.5h8.34M571.5 387.33v8.34M575.33 370.5h8.34M579.5 366.33v8.34M571.33 345.5h8.34M575.5 341.33v8.34M556.33 353.5h8.34M560.5 349.33v8.34M552.33 410.5h8.34M556.5 406.33v8.34M558.33 410.5h8.34M562.5 406.33v8.34M607.33 413.5h8.34M611.5 409.33v8.34M568.33 403.5h8.34M572.5 399.33v8.34M588.33 381.5h8.34M592.5 377.33v8.34M552.33 371.5h8.34M556.5 367.33v8.34M613.33 415.5h8.34M617.5 411.33v8.34M554.33 355.5h8.34M558.5 351.33v8.34M557.33 360.5h8.34M561.5 356.33v8.34M595.33 390.5h8.34M599.5 386.33v8.34M554.33 422.5h8.34M558.5 418.33v8.34M574.33 392.5h8.34M578.5 388.33v8.34M585.33 389.5h8.34M589.5 385.33v8.34M573.33 391.5h8.34M577.5 387.33v8.34M560.33 371.5h8.34M564.5 367.33v8.34M567.33 407.5h8.34M571.5 403.33v8.34M604.33 417.5h8.34M608.5 413.33v8.34M550.33 362.5h8.34M554.5 358.33v8.34M596.33 391.5h8.34M600.5 387.33v8.34M582.33 408.5h8.34M586.5 404.33v8.34M587.33 419.5h8.34M591.5 415.33v8.34M571.33 348.5h8.34M575.5 344.33v8.34M571.33 416.5h8.34M575.5 412.33v8.34M557.33 342.5h8.34M561.5 338.33v8.34M551.33 421.5h8.34M555.5 417.33v8.34M577.33 404.5h8.34M581.5 400.33v8.34M571.33 358.5h8.34M575.5 354.33v8.34M556.33 368.5h8.34M560.5 364.33v8.34M617.33 411.5h8.34M621.5 407.33v8.34M569.33 344.5h8.34M573.5 340.33v8.34M590.33 387.5h8.34M594.5 383.33v8.34M559.33 412.5h8.34M563.5 408.33v8.34M554.33 342.5h8.34M558.5 338.33v8.34M542.33 399.5h8.34M546.5 395.33v8.34M553.33 412.5h8.34M557.5 408.33v8.34M562.33 393.5h8.34M566.5 389.33v8.34M570.33 399.5h8.34M574.5 395.33v8.34M588.33 398.5h8.34M592.5 394.33v8.34M607.33 407.5h8.34M611.5 403.33v8.34M595.33 420.5h8.34M599.5 416.33v8.34M546.33 364.5h8.34M550.5 360.33v8.34M565.33 386.5h8.34M569.5 382.33v8.34M559.33 357.5h8.34M563.5 353.33v8.34M556.33 423.5h8.34M560.5 419.33v8.34M588.33 395.5h8.34M592.5 391.33v8.34M562.33 419.5h8.34M566.5 415.33v8.34M553.33 395.5h8.34M557.5 391.33v8.34M550.33 383.5h8.34M554.5 379.33v8.34M569.33 361.5h8.34M573.5 357.33v8.34M618.33 402.5h8.34M622.5 398.33v8.34M586.33 387.5h8.34M590.5 383.33v8.34M576.33 349.5h8.34M580.5 345.33v8.34M566.33 370.5h8.34M570.5 366.33v8.34M595.33 414.5h8.34M599.5 410.33v8.34M547.33 390.5h8.34M551.5 386.33v8.34M557.33 371.5h8.34M561.5 367.33v8.34M567.33 385.5h8.34M571.5 381.33v8.34M552.33 399.5h8.34M556.5 395.33v8.34M598.33 378.5h8.34M602.5 374.33v8.34M561.33 359.5h8.34M565.5 355.33v8.34M566.33 378.5h8.34M570.5 374.33v8.34M562.33 389.5h8.34M566.5 385.33v8.34M601.33 410.5h8.34M605.5 406.33v8.34M576.33 387.5h8.34M580.5 383.33v8.34M580.33 366.5h8.34M584.5 362.33v8.34M584.33 389.5h8.34M588.5 385.33v8.34M551.33 406.5h8.34M555.5 402.33v8.34M588.33 393.5h8.34M592.5 389.33v8.34M553.33 387.5h8.34M557.5 383.33v8.34M554.33 335.5h8.34M558.5 331.33v8.34M566.33 395.5h8.34M570.5 391.33v8.34M557.33 336.5h8.34M561.5 332.33v8.34M551.33 425.5h8.34M555.5 421.33v8.34M560.33 332.5h8.34M564.5 328.33v8.34M571.33 342.5h8.34M575.5 338.33v8.34M589.33 380.5h8.34M593.5 376.33v8.34M551.33 364.5h8.34M555.5 360.33v8.34M550.33 386.5h8.34M554.5 382.33v8.34M591.33 398.5h8.34M595.5 394.33v8.34M558.33 353.5h8.34M562.5 349.33v8.34M587.33 420.5h8.34M591.5 416.33v8.34M570.33 350.5h8.34M574.5 346.33v8.34M595.33 376.5h8.34M599.5 372.33v8.34M581.33 361.5h8.34M585.5 357.33v8.34M578.33 367.5h8.34M582.5 363.33v8.34M574.33 402.5h8.34M578.5 398.33v8.34M564.33 413.5h8.34M568.5 409.33v8.34M568.33 348.5h8.34M572.5 344.33v8.34M552.33 354.5h8.34M556.5 350.33v8.34M572.33 393.5h8.34M576.5 389.33v8.34M578.33 391.5h8.34M582.5 387.33v8.34M584.33 425.5h8.34M588.5 421.33v8.34M600.33 411.5h8.34M604.5 407.33v8.34M585.33 413.5h8.34M589.5 409.33v8.34M612.33 404.5h8.34M616.5 400.33v8.34M554.33 330.5h8.34M558.5 326.33v8.34M576.33 357.5h8.34M580.5 353.33v8.34M565.33 405.5h8.34M569.5 401.33v8.34M575.33 352.5h8.34M579.5 348.33v8.34M561.33 321.5h8.34M565.5 317.33v8.34M553.33 403.5h8.34M557.5 399.33v8.34M555.33 343.5h8.34M559.5 339.33v8.34M593.33 412.5h8.34M597.5 408.33v8.34M560.33 372.5h8.34M564.5 368.33v8.34M566.33 419.5h8.34M570.5 415.33v8.34M541.33 375.5h8.34M545.5 371.33v8.34M577.33 373.5h8.34M581.5 369.33v8.34M555.33 391.5h8.34M559.5 387.33v8.34M564.33 352.5h8.34M568.5 348.33v8.34M588.33 407.5h8.34M592.5 403.33v8.34M573.33 368.5h8.34M577.5 364.33v8.34M553.33 398.5h8.34M557.5 394.33v8.34M564.33 398.5h8.34M568.5 394.33v8.34M541.33 382.5h8.34M545.5 378.33v8.34M580.33 420.5h8.34M584.5 416.33v8.34M567.33 376.5h8.34M571.5 372.33v8.34M600.33 421.5h8.34M604.5 417.33v8.34M561.33 416.5h8.34M565.5 412.33v8.34M545.33 372.5h8.34M549.5 368.33v8.34M554.33 361.5h8.34M558.5 357.33v8.34M550.33 427.5h8.34M554.5 423.33v8.34M598.33 413.5h8.34M602.5 409.33v8.34M588.33 420.5h8.34M592.5 416.33v8.34M581.33 399.5h8.34M585.5 395.33v8.34M593.33 384.5h8.34M597.5 380.33v8.34M580.33 371.5h8.34M584.5 367.33v8.34M591.33 395.5h8.34M595.5 391.33v8.34M565.33 350.5h8.34M569.5 346.33v8.34M608.33 412.5h8.34M612.5 408.33v8.34M548.33 359.5h8.34M552.5 355.33v8.34M550.33 387.5h8.34M554.5 383.33v8.34M566.33 349.5h8.34M570.5 345.33v8.34M572.33 399.5h8.34M576.5 395.33v8.34M587.33 389.5h8.34M591.5 385.33v8.34M578.33 417.5h8.34M582.5 413.33v8.34M572.33 366.5h8.34M576.5 362.33v8.34M544.33 391.5h8.34M548.5 387.33v8.34M582.33 429.5h8.34M586.5 425.33v8.34M570.33 404.5h8.34M574.5 400.33v8.34M584.33 382.5h8.34M588.5 378.33v8.34M562.33 341.5h8.34M566.5 337.33v8.34M564.33 401.5h8.34M568.5 397.33v8.34M556.33 365.5h8.34M560.5 361.33v8.34M548.33 398.5h8.34M552.5 394.33v8.34M573.33 349.5h8.34M577.5 345.33v8.34M555.33 381.5h8.34M559.5 377.33v8.34M565.33 385.5h8.34M569.5 381.33v8.34M547.33 413.5h8.34M551.5 409.33v8.34M595.33 386.5h8.34M599.5 382.33v8.34M596.33 412.5h8.34M600.5 408.33v8.34M570.33 365.5h8.34M574.5 361.33v8.34M596.33 410.5h8.34M600.5 406.33v8.34M553.33 382.5h8.34M557.5 378.33v8.34M599.33 422.5h8.34M603.5 418.33v8.34M557.33 366.5h8.34M561.5 362.33v8.34M578.33 405.5h8.34M582.5 401.33v8.34M555.33 388.5h8.34M559.5 384.33v8.34M556.33 400.5h8.34M560.5 396.33v8.34M570.33 372.5h8.34M574.5 368.33v8.34M546.33 405.5h8.34M550.5 401.33v8.34M560.33 350.5h8.34M564.5 346.33v8.34M618.33 413.5h8.34M622.5 409.33v8.34M591.33 384.5h8.34M595.5 380.33v8.34M560.33 391.5h8.34M564.5 387.33v8.34M580.33 408.5h8.34M584.5 404.33v8.34M558.33 414.5h8.34M562.5 410.33v8.34M560.33 335.5h8.34M564.5 331.33v8.34M552.33 359.5h8.34M556.5 355.33v8.34M599.33 422.5h8.34M603.5 418.33v8.34M564.33 346.5h8.34M568.5 342.33v8.34M563.33 379.5h8.34M567.5 375.33v8.34M565.33 374.5h8.34M569.5 370.33v8.34M561.33 355.5h8.34M565.5 351.33v8.34M556.33 398.5h8.34M560.5 394.33v8.34M545.33 347.5h8.34M549.5 343.33v8.34M544.33 355.5h8.34M548.5 351.33v8.34M563.33 401.5h8.34M567.5 397.33v8.34M556.33 399.5h8.34M560.5 395.33v8.34M553.33 364.5h8.34M557.5 360.33v8.34M566.33 387.5h8.34M570.5 383.33v8.34M552.33 413.5h8.34M556.5 409.33v8.34M584.33 357.5h8.34M588.5 353.33v8.34M558.33 381.5h8.34M562.5 377.33v8.34M577.33 421.5h8.34M581.5 417.33v8.34M612.33 422.5h8.34M616.5 418.33v8.34M552.33 397.5h8.34M556.5 393.33v8.34M550.33 410.5h8.34M554.5 406.33v8.34M573.33 372.5h8.34M577.5 368.33v8.34M579.33 425.5h8.34M583.5 421.33v8.34M569.33 413.5h8.34M573.5 409.33v8.34M579.33 421.5h8.34M583.5 417.33v8.34M556.33 366.5h8.34M560.5 362.33v8.34M617.33 405.5h8.34M621.5 401.33v8.34M570.33 402.5h8.34M574.5 398.33v8.34M608.33 403.5h8.34M612.5 399.33v8.34M574.33 371.5h8.34M578.5 367.33v8.34M544.33 361.5h8.34M548.5 357.33v8.34M578.33 412.5h8.34M582.5 408.33v8.34M579.33 407.5h8.34M583.5 403.33v8.34M574.33 385.5h8.34M578.5 381.33v8.34M546.33 367.5h8.34M550.5 363.33v8.34M597.33 393.5h8.34M601.5 389.33v8.34M569.33 342.5h8.34M573.5 338.33v8.34M589.33 377.5h8.34M593.5 373.33v8.34M551.33 353.5h8.34M555.5 349.33v8.34M580.33 388.5h8.34M584.5 384.33v8.34M546.33 390.5h8.34M550.5 386.33v8.34M597.33 407.5h8.34M601.5 403.33v8.34M572.33 352.5h8.34M576.5 348.33v8.34M566.33 362.5h8.34M570.5 358.33v8.34M575.33 383.5h8.34M579.5 379.33v8.34M569.33 390.5h8.34M573.5 386.33v8.34M559.33 361.5h8.34M563.5 357.33v8.34M574.33 423.5h8.34M578.5 419.33v8.34M566.33 341.5h8.34M570.5 337.33v8.34M552.33 401.5h8.34M556.5 397.33v8.34M566.33 378.5h8.34M570.5 374.33v8.34M562.33 387.5h8.34M566.5 383.33v8.34M564.33 361.5h8.34M568.5 357.33v8.34M619.33 425.5h8.34M623.5 421.33v8.34M561.33 405.5h8.34M565.5 401.33v8.34M562.33 391.5h8.34M566.5 387.33v8.34M548.33 393.5h8.34M552.5 389.33v8.34M550.33 405.5h8.34M554.5 401.33v8.34M592.33 371.5h8.34M596.5 367.33v8.34M546.33 322.5h8.34M550.5 318.33v8.34M587.33 367.5h8.34M591.5 363.33v8.34M577.33 381.5h8.34M581.5 377.33v8.34M562.33 363.5h8.34M566.5 359.33v8.34M612.33 423.5h8.34M616.5 419.33v8.34M578.33 409.5h8.34M582.5 405.33v8.34M601.33 396.5h8.34M605.5 392.33v8.34M589.33 401.5h8.34M593.5 397.33v8.34M606.33 404.5h8.34M610.5 400.33v8.34M572.33 362.5h8.34M576.5 358.33v8.34M570.33 372.5h8.34M574.5 368.33v8.34M560.33 416.5h8.34M564.5 412.33v8.34M554.33 365.5h8.34M558.5 361.33v8.34M578.33 386.5h8.34M582.5 382.33v8.34M556.33 333.5h8.34M560.5 329.33v8.34M565.33 424.5h8.34M569.5 420.33v8.34M562.33 406.5h8.34M566.5 402.33v8.34M581.33 387.5h8.34M585.5 383.33v8.34M556.33 416.5h8.34M560.5 412.33v8.34M562.33 406.5h8.34M566.5 402.33v8.34M578.33 367.5h8.34M582.5 363.33v8.34M573.33 392.5h8.34M577.5 388.33v8.34M581.33 346.5h8.34M585.5 342.33v8.34M575.33 411.5h8.34M579.5 407.33v8.34M585.33 390.5h8.34M589.5 386.33v8.34M565.33 390.5h8.34M569.5 386.33v8.34M572.33 397.5h8.34M576.5 393.33v8.34M548.33 337.5h8.34M552.5 333.33v8.34M588.33 390.5h8.34M592.5 386.33v8.34M584.33 409.5h8.34M588.5 405.33v8.34M577.33 379.5h8.34M581.5 375.33v8.34M569.33 373.5h8.34M573.5 369.33v8.34M554.33 406.5h8.34M558.5 402.33v8.34M562.33 402.5h8.34M566.5 398.33v8.34M599.33 413.5h8.34M603.5 409.33v8.34M575.33 360.5h8.34M579.5 356.33v8.34M600.33 413.5h8.34M604.5 409.33v8.34M608.33 401.5h8.34M612.5 397.33v8.34M619.33 414.5h8.34M623.5 410.33v8.34M600.33 386.5h8.34M604.5 382.33v8.34M568.33 354.5h8.34M572.5 350.33v8.34M565.33 347.5h8.34M569.5 343.33v8.34M574.33 407.5h8.34M578.5 403.33v8.34M553.33 403.5h8.34M557.5 399.33v8.34M563.33 362.5h8.34M567.5 358.33v8.34M586.33 397.5h8.34M590.5 393.33v8.34M560.33 376.5h8.34M564.5 372.33v8.34M584.33 417.5h8.34M588.5 413.33v8.34M580.33 402.5h8.34M584.5 398.33v8.34M567.33 344.5h8.34M571.5 340.33v8.34M582.33 418.5h8.34M586.5 414.33v8.34M551.33 380.5h8.34M555.5 376.33v8.34M563.33 380.5h8.34M567.5 376.33v8.34M588.33 379.5h8.34M592.5 375.33v8.34M627.33 426.5h8.34M631.5 422.33v8.34M548.33 350.5h8.34M552.5 346.33v8.34M582.33 420.5h8.34M586.5 416.33v8.34M576.33 411.5h8.34M580.5 407.33v8.34M583.33 427.5h8.34M587.5 423.33v8.34M560.33 384.5h8.34M564.5 380.33v8.34M600.33 421.5h8.34M604.5 417.33v8.34M572.33 407.5h8.34M576.5 403.33v8.34M553.33 365.5h8.34M557.5 361.33v8.34M564.33 371.5h8.34M568.5 367.33v8.34M565.33 333.5h8.34M569.5 329.33v8.34M544.33 371.5h8.34M548.5 367.33v8.34M558.33 348.5h8.34M562.5 344.33v8.34M561.33 395.5h8.34M565.5 391.33v8.34M604.33 423.5h8.34M608.5 419.33v8.34M558.33 410.5h8.34M562.5 406.33v8.34M562.33 371.5h8.34M566.5 367.33v8.34M557.33 421.5h8.34M561.5 417.33v8.34M569.33 424.5h8.34M573.5 420.33v8.34M564.33 351.5h8.34M568.5 347.33v8.34M573.33 390.5h8.34M577.5 386.33v8.34M581.33 399.5h8.34M585.5 395.33v8.34M579.33 423.5h8.34M583.5 419.33v8.34M581.33 403.5h8.34M585.5 399.33v8.34M558.33 344.5h8.34M562.5 340.33v8.34M565.33 367.5h8.34M569.5 363.33v8.34M561.33 365.5h8.34M565.5 361.33v8.34M566.33 419.5h8.34M570.5 415.33v8.34M569.33 380.5h8.34M573.5 376.33v8.34M610.33 415.5h8.34M614.5 411.33v8.34M552.33 421.5h8.34M556.5 417.33v8.34M545.33 377.5h8.34M549.5 373.33v8.34M561.33 347.5h8.34M565.5 343.33v8.34M565.33 369.5h8.34M569.5 365.33v8.34M578.33 387.5h8.34M582.5 383.33v8.34M593.33 420.5h8.34M597.5 416.33v8.34M608.33 428.5h8.34M612.5 424.33v8.34M589.33 413.5h8.34M593.5 409.33v8.34M595.33 422.5h8.34M599.5 418.33v8.34M558.33 421.5h8.34M562.5 417.33v8.34M580.33 398.5h8.34M584.5 394.33v8.34M572.33 408.5h8.34M576.5 404.33v8.34M560.33 361.5h8.34M564.5 357.33v8.34M575.33 401.5h8.34M579.5 397.33v8.34M549.33 424.5h8.34M553.5 420.33v8.34M573.33 417.5h8.34M577.5 413.33v8.34M552.33 351.5h8.34M556.5 347.33v8.34M541.33 387.5h8.34M545.5 383.33v8.34M588.33 391.5h8.34M592.5 387.33v8.34M548.33 374.5h8.34M552.5 370.33v8.34M570.33 426.5h8.34M574.5 422.33v8.34M587.33 371.5h8.34M591.5 367.33v8.34M617.33 405.5h8.34M621.5 401.33v8.34M583.33 369.5h8.34M587.5 365.33v8.34M576.33 373.5h8.34M580.5 369.33v8.34M573.33 341.5h8.34M577.5 337.33v8.34M560.33 335.5h8.34M564.5 331.33v8.34M552.33 365.5h8.34M556.5 361.33v8.34M559.33 368.5h8.34M563.5 364.33v8.34M554.33 417.5h8.34M558.5 413.33v8.34M586.33 373.5h8.34M590.5 369.33v8.34M569.33 365.5h8.34M573.5 361.33v8.34M572.33 381.5h8.34M576.5 377.33v8.34M574.33 407.5h8.34M578.5 403.33v8.34M553.33 370.5h8.34M557.5 366.33v8.34M574.33 374.5h8.34M578.5 370.33v8.34M598.33 398.5h8.34M602.5 394.33v8.34M579.33 361.5h8.34M583.5 357.33v8.34M583.33 424.5h8.34M587.5 420.33v8.34M569.33 367.5h8.34M573.5 363.33v8.34M570.33 365.5h8.34M574.5 361.33v8.34M569.33 345.5h8.34M573.5 341.33v8.34M570.33 397.5h8.34M574.5 393.33v8.34M561.33 399.5h8.34M565.5 395.33v8.34M577.33 370.5h8.34M581.5 366.33v8.34M587.33 397.5h8.34M591.5 393.33v8.34M558.33 343.5h8.34M562.5 339.33v8.34M625.33 414.5h8.34M629.5 410.33v8.34M552.33 396.5h8.34M556.5 392.33v8.34M562.33 414.5h8.34M566.5 410.33v8.34M600.33 413.5h8.34M604.5 409.33v8.34M600.33 420.5h8.34M604.5 416.33v8.34M555.33 369.5h8.34M559.5 365.33v8.34M570.33 346.5h8.34M574.5 342.33v8.34M549.33 400.5h8.34M553.5 396.33v8.34M574.33 348.5h8.34M578.5 344.33v8.34M604.33 393.5h8.34M608.5 389.33v8.34M600.33 383.5h8.34M604.5 379.33v8.34M634.33 412.5h8.34M638.5 408.33v8.34M558.33 425.5h8.34M562.5 421.33v8.34M569.33 404.5h8.34M573.5 400.33v8.34M559.33 425.5h8.34M563.5 421.33v8.34M554.33 352.5h8.34M558.5 348.33v8.34M565.33 338.5h8.34M569.5 334.33v8.34M567.33 394.5h8.34M571.5 390.33v8.34M598.33 382.5h8.34M602.5 378.33v8.34M601.33 399.5h8.34M605.5 395.33v8.34M596.33 414.5h8.34M600.5 410.33v8.34M576.33 330.5h8.34M580.5 326.33v8.34M582.33 402.5h8.34M586.5 398.33v8.34M581.33 390.5h8.34M585.5 386.33v8.34M574.33 404.5h8.34M578.5 400.33v8.34M567.33 367.5h8.34M571.5 363.33v8.34M560.33 365.5h8.34M564.5 361.33v8.34M575.33 359.5h8.34M579.5 355.33v8.34M570.33 376.5h8.34M574.5 372.33v8.34M559.33 367.5h8.34M563.5 363.33v8.34M579.33 410.5h8.34M583.5 406.33v8.34M590.33 370.5h8.34M594.5 366.33v8.34M597.33 381.5h8.34M601.5 377.33v8.34M581.33 364.5h8.34M585.5 360.33v8.34M561.33 394.5h8.34M565.5 390.33v8.34M567.33 360.5h8.34M571.5 356.33v8.34M561.33 389.5h8.34M565.5 385.33v8.34M580.33 363.5h8.34M584.5 359.33v8.34M555.33 398.5h8.34M559.5 394.33v8.34M569.33 381.5h8.34M573.5 377.33v8.34M598.33 395.5h8.34M602.5 391.33v8.34M551.33 353.5h8.34M555.5 349.33v8.34M595.33 396.5h8.34M599.5 392.33v8.34M573.33 368.5h8.34M577.5 364.33v8.34M572.33 399.5h8.34M576.5 395.33v8.34M567.33 428.5h8.34M571.5 424.33v8.34M574.33 347.5h8.34M578.5 343.33v8.34M594.33 373.5h8.34M598.5 369.33v8.34M548.33 352.5h8.34M552.5 348.33v8.34M578.33 393.5h8.34M582.5 389.33v8.34M562.33 396.5h8.34M566.5 392.33v8.34M568.33 376.5h8.34M572.5 372.33v8.34M588.33 425.5h8.34M592.5 421.33v8.34M551.33 371.5h8.34M555.5 367.33v8.34M561.33 388.5h8.34M565.5 384.33v8.34M576.33 425.5h8.34M580.5 421.33v8.34M594.33 385.5h8.34M598.5 381.33v8.34M570.33 379.5h8.34M574.5 375.33v8.34M566.33 391.5h8.34M570.5 387.33v8.34M549.33 359.5h8.34M553.5 355.33v8.34M603.33 414.5h8.34M607.5 410.33v8.34M554.33 364.5h8.34M558.5 360.33v8.34M548.33 399.5h8.34M552.5 395.33v8.34M558.33 417.5h8.34M562.5 413.33v8.34M581.33 359.5h8.34M585.5 355.33v8.34M584.33 370.5h8.34M588.5 366.33v8.34M552.33 351.5h8.34M556.5 347.33v8.34M576.33 397.5h8.34M580.5 393.33v8.34M603.33 428.5h8.34M607.5 424.33v8.34M584.33 380.5h8.34M588.5 376.33v8.34M558.33 360.5h8.34M562.5 356.33v8.34M549.33 358.5h8.34M553.5 354.33v8.34M562.33 352.5h8.34M566.5 348.33v8.34M570.33 377.5h8.34M574.5 373.33v8.34M561.33 386.5h8.34M565.5 382.33v8.34M603.33 412.5h8.34M607.5 408.33v8.34M557.33 426.5h8.34M561.5 422.33v8.34M557.33 402.5h8.34M561.5 398.33v8.34M568.33 371.5h8.34M572.5 367.33v8.34M554.33 349.5h8.34M558.5 345.33v8.34M605.33 395.5h8.34M609.5 391.33v8.34M567.33 345.5h8.34M571.5 341.33v8.34M539.33 366.5h8.34M543.5 362.33v8.34M546.33 409.5h8.34M550.5 405.33v8.34M603.33 412.5h8.34M607.5 408.33v8.34M582.33 375.5h8.34M586.5 371.33v8.34M615.33 421.5h8.34M619.5 417.33v8.34M561.33 407.5h8.34M565.5 403.33v8.34M563.33 370.5h8.34M567.5 366.33v8.34M585.33 399.5h8.34M589.5 395.33v8.34M567.33 400.5h8.34M571.5 396.33v8.34M563.33 387.5h8.34M567.5 383.33v8.34M576.33 405.5h8.34M580.5 401.33v8.34M558.33 425.5h8.34M562.5 421.33v8.34M589.33 381.5h8.34M593.5 377.33v8.34M566.33 382.5h8.34M570.5 378.33v8.34M575.33 353.5h8.34M579.5 349.33v8.34M560.33 372.5h8.34M564.5 368.33v8.34M587.33 376.5h8.34M591.5 372.33v8.34M580.33 378.5h8.34M584.5 374.33v8.34M616.33 414.5h8.34M620.5 410.33v8.34M554.33 350.5h8.34M558.5 346.33v8.34M554.33 424.5h8.34M558.5 420.33v8.34M596.33 397.5h8.34M600.5 393.33v8.34M557.33 395.5h8.34M561.5 391.33v8.34M566.33 424.5h8.34M570.5 420.33v8.34M576.33 400.5h8.34M580.5 396.33v8.34M546.33 335.5h8.34M550.5 331.33v8.34M596.33 406.5h8.34M600.5 402.33v8.34M538.33 329.5h8.34M542.5 325.33v8.34M606.33 421.5h8.34M610.5 417.33v8.34M589.33 426.5h8.34M593.5 422.33v8.34M580.33 428.5h8.34M584.5 424.33v8.34M579.33 332.5h8.34M583.5 328.33v8.34M571.33 417.5h8.34M575.5 413.33v8.34M574.33 423.5h8.34M578.5 419.33v8.34M568.33 421.5h8.34M572.5 417.33v8.34M563.33 409.5h8.34M567.5 405.33v8.34M569.33 390.5h8.34M573.5 386.33v8.34M558.33 366.5h8.34M562.5 362.33v8.34M607.33 393.5h8.34M611.5 389.33v8.34M565.33 416.5h8.34M569.5 412.33v8.34M546.33 346.5h8.34M550.5 342.33v8.34M578.33 377.5h8.34M582.5 373.33v8.34M557.33 375.5h8.34M561.5 371.33v8.34M565.33 360.5h8.34M569.5 356.33v8.34M547.33 369.5h8.34M551.5 365.33v8.34M570.33 354.5h8.34M574.5 350.33v8.34M545.33 351.5h8.34M549.5 347.33v8.34M556.33 402.5h8.34M560.5 398.33v8.34M554.33 402.5h8.34M558.5 398.33v8.34M559.33 410.5h8.34M563.5 406.33v8.34M579.33 385.5h8.34M583.5 381.33v8.34M568.33 393.5h8.34M572.5 389.33v8.34M571.33 364.5h8.34M575.5 360.33v8.34M587.33 416.5h8.34M591.5 412.33v8.34M576.33 351.5h8.34M580.5 347.33v8.34M569.33 392.5h8.34M573.5 388.33v8.34M557.33 398.5h8.34M561.5 394.33v8.34M553.33 394.5h8.34M557.5 390.33v8.34M597.33 385.5h8.34M601.5 381.33v8.34M569.33 362.5h8.34M573.5 358.33v8.34M561.33 339.5h8.34M565.5 335.33v8.34M564.33 376.5h8.34M568.5 372.33v8.34M577.33 373.5h8.34M581.5 369.33v8.34M576.33 388.5h8.34M580.5 384.33v8.34M549.33 346.5h8.34M553.5 342.33v8.34M563.33 402.5h8.34M567.5 398.33v8.34M580.33 417.5h8.34M584.5 413.33v8.34M572.33 382.5h8.34M576.5 378.33v8.34M581.33 362.5h8.34M585.5 358.33v8.34M576.33 410.5h8.34M580.5 406.33v8.34M552.33 377.5h8.34M556.5 373.33v8.34M594.33 410.5h8.34M598.5 406.33v8.34M577.33 378.5h8.34M581.5 374.33v8.34M575.33 343.5h8.34M579.5 339.33v8.34M562.33 349.5h8.34M566.5 345.33v8.34M604.33 393.5h8.34M608.5 389.33v8.34M569.33 389.5h8.34M573.5 385.33v8.34M554.33 355.5h8.34M558.5 351.33v8.34M589.33 387.5h8.34M593.5 383.33v8.34M569.33 388.5h8.34M573.5 384.33v8.34M618.33 422.5h8.34M622.5 418.33v8.34M594.33 375.5h8.34M598.5 371.33v8.34M557.33 388.5h8.34M561.5 384.33v8.34M575.33 358.5h8.34M579.5 354.33v8.34M539.33 373.5h8.34M543.5 369.33v8.34M575.33 355.5h8.34M579.5 351.33v8.34M566.33 426.5h8.34M570.5 422.33v8.34M576.33 368.5h8.34M580.5 364.33v8.34M569.33 403.5h8.34M573.5 399.33v8.34M564.33 351.5h8.34M568.5 347.33v8.34M579.33 378.5h8.34M583.5 374.33v8.34M550.33 331.5h8.34M554.5 327.33v8.34M551.33 373.5h8.34M555.5 369.33v8.34M565.33 421.5h8.34M569.5 417.33v8.34M623.33 424.5h8.34M627.5 420.33v8.34M549.33 376.5h8.34M553.5 372.33v8.34M564.33 335.5h8.34M568.5 331.33v8.34M551.33 348.5h8.34M555.5 344.33v8.34M593.33 379.5h8.34M597.5 375.33v8.34M560.33 400.5h8.34M564.5 396.33v8.34M564.33 411.5h8.34M568.5 407.33v8.34M558.33 390.5h8.34M562.5 386.33v8.34M561.33 428.5h8.34M565.5 424.33v8.34M560.33 366.5h8.34M564.5 362.33v8.34M585.33 410.5h8.34M589.5 406.33v8.34M589.33 379.5h8.34M593.5 375.33v8.34M549.33 371.5h8.34M553.5 367.33v8.34M556.33 326.5h8.34M560.5 322.33v8.34M552.33 370.5h8.34M556.5 366.33v8.34M580.33 359.5h8.34M584.5 355.33v8.34M553.33 343.5h8.34M557.5 339.33v8.34M571.33 351.5h8.34M575.5 347.33v8.34M581.33 370.5h8.34M585.5 366.33v8.34M587.33 427.5h8.34M591.5 423.33v8.34M586.33 393.5h8.34M590.5 389.33v8.34M585.33 378.5h8.34M589.5 374.33v8.34M567.33 363.5h8.34M571.5 359.33v8.34M586.33 372.5h8.34M590.5 368.33v8.34M588.33 405.5h8.34M592.5 401.33v8.34M613.33 415.5h8.34M617.5 411.33v8.34M594.33 421.5h8.34M598.5 417.33v8.34M605.33 421.5h8.34M609.5 417.33v8.34M592.33 421.5h8.34M596.5 417.33v8.34M610.33 409.5h8.34M614.5 405.33v8.34M557.33 382.5h8.34M561.5 378.33v8.34M582.33 427.5h8.34M586.5 423.33v8.34M593.33 414.5h8.34M597.5 410.33v8.34M577.33 360.5h8.34M581.5 356.33v8.34M550.33 396.5h8.34M554.5 392.33v8.34M607.33 426.5h8.34M611.5 422.33v8.34M586.33 384.5h8.34M590.5 380.33v8.34M606.33 414.5h8.34M610.5 410.33v8.34M591.33 402.5h8.34M595.5 398.33v8.34M592.33 389.5h8.34M596.5 385.33v8.34M590.33 407.5h8.34M594.5 403.33v8.34M556.33 407.5h8.34M560.5 403.33v8.34M569.33 384.5h8.34M573.5 380.33v8.34M542.33 397.5h8.34M546.5 393.33v8.34M625.33 427.5h8.34M629.5 423.33v8.34M573.33 374.5h8.34M577.5 370.33v8.34M600.33 414.5h8.34M604.5 410.33v8.34M561.33 423.5h8.34M565.5 419.33v8.34M561.33 395.5h8.34M565.5 391.33v8.34M592.33 413.5h8.34M596.5 409.33v8.34M569.33 333.5h8.34M573.5 329.33v8.34M608.33 412.5h8.34M612.5 408.33v8.34M596.33 381.5h8.34M600.5 377.33v8.34M561.33 395.5h8.34M565.5 391.33v8.34M566.33 399.5h8.34M570.5 395.33v8.34M555.33 425.5h8.34M559.5 421.33v8.34M572.33 372.5h8.34M576.5 368.33v8.34M569.33 379.5h8.34M573.5 375.33v8.34M547.33 327.5h8.34M551.5 323.33v8.34M559.33 407.5h8.34M563.5 403.33v8.34M563.33 353.5h8.34M567.5 349.33v8.34M544.33 391.5h8.34M548.5 387.33v8.34M571.33 363.5h8.34M575.5 359.33v8.34M584.33 396.5h8.34M588.5 392.33v8.34M570.33 390.5h8.34M574.5 386.33v8.34M573.33 356.5h8.34M577.5 352.33v8.34M583.33 366.5h8.34M587.5 362.33v8.34M590.33 421.5h8.34M594.5 417.33v8.34M604.33 411.5h8.34M608.5 407.33v8.34M551.33 382.5h8.34M555.5 378.33v8.34M556.33 379.5h8.34M560.5 375.33v8.34M578.33 392.5h8.34M582.5 388.33v8.34M593.33 404.5h8.34M597.5 400.33v8.34M593.33 426.5h8.34M597.5 422.33v8.34M579.33 381.5h8.34M583.5 377.33v8.34M566.33 385.5h8.34M570.5 381.33v8.34M568.33 395.5h8.34M572.5 391.33v8.34M562.33 387.5h8.34M566.5 383.33v8.34M612.33 423.5h8.34M616.5 419.33v8.34M559.33 377.5h8.34M563.5 373.33v8.34M566.33 395.5h8.34M570.5 391.33v8.34M551.33 407.5h8.34M555.5 403.33v8.34M554.33 371.5h8.34M558.5 367.33v8.34M581.33 416.5h8.34M585.5 412.33v8.34M584.33 396.5h8.34M588.5 392.33v8.34M566.33 424.5h8.34M570.5 420.33v8.34M606.33 403.5h8.34M610.5 399.33v8.34M554.33 398.5h8.34M558.5 394.33v8.34M583.33 395.5h8.34M587.5 391.33v8.34M566.33 405.5h8.34M570.5 401.33v8.34M559.33 331.5h8.34M563.5 327.33v8.34M570.33 346.5h8.34M574.5 342.33v8.34M569.33 403.5h8.34M573.5 399.33v8.34M553.33 330.5h8.34M557.5 326.33v8.34M579.33 348.5h8.34M583.5 344.33v8.34M605.33 416.5h8.34M609.5 412.33v8.34M554.33 346.5h8.34M558.5 342.33v8.34M591.33 401.5h8.34M595.5 397.33v8.34M569.33 421.5h8.34M573.5 417.33v8.34M607.33 416.5h8.34M611.5 412.33v8.34M565.33 390.5h8.34M569.5 386.33v8.34M518.33 345.5h8.34M522.5 341.33v8.34M522.33 397.5h8.34M526.5 393.33v8.34M485.33 335.5h8.34M489.5 331.33v8.34M522.33 327.5h8.34M526.5 323.33v8.34M507.33 412.5h8.34M511.5 408.33v8.34M486.33 360.5h8.34M490.5 356.33v8.34M528.33 388.5h8.34M532.5 384.33v8.34M502.33 368.5h8.34M506.5 364.33v8.34M518.33 410.5h8.34M522.5 406.33v8.34M536.33 403.5h8.34M540.5 399.33v8.34M477.33 406.5h8.34M481.5 402.33v8.34M538.33 405.5h8.34M542.5 401.33v8.34M521.33 414.5h8.34M525.5 410.33v8.34M529.33 402.5h8.34M533.5 398.33v8.34M526.33 424.5h8.34M530.5 420.33v8.34M535.33 368.5h8.34M539.5 364.33v8.34M506.33 344.5h8.34M510.5 340.33v8.34M484.33 404.5h8.34M488.5 400.33v8.34M536.33 361.5h8.34M540.5 357.33v8.34M519.33 341.5h8.34M523.5 337.33v8.34M489.33 404.5h8.34M493.5 400.33v8.34M515.33 394.5h8.34M519.5 390.33v8.34M526.33 410.5h8.34M530.5 406.33v8.34M533.33 410.5h8.34M537.5 406.33v8.34M526.33 399.5h8.34M530.5 395.33v8.34M519.33 373.5h8.34M523.5 369.33v8.34M524.33 426.5h8.34M528.5 422.33v8.34M510.33 366.5h8.34M514.5 362.33v8.34M494.33 368.5h8.34M498.5 364.33v8.34M525.33 380.5h8.34M529.5 376.33v8.34M505.33 399.5h8.34M509.5 395.33v8.34M507.33 393.5h8.34M511.5 389.33v8.34M509.33 339.5h8.34M513.5 335.33v8.34M513.33 398.5h8.34M517.5 394.33v8.34M519.33 402.5h8.34M523.5 398.33v8.34M503.33 394.5h8.34M507.5 390.33v8.34M538.33 417.5h8.34M542.5 413.33v8.34M513.33 364.5h8.34M517.5 360.33v8.34M476.33 397.5h8.34M480.5 393.33v8.34M538.33 384.5h8.34M542.5 380.33v8.34M519.33 390.5h8.34M523.5 386.33v8.34M510.33 354.5h8.34M514.5 350.33v8.34M517.33 383.5h8.34M521.5 379.33v8.34M523.33 404.5h8.34M527.5 400.33v8.34M518.33 338.5h8.34M522.5 334.33v8.34M508.33 377.5h8.34M512.5 373.33v8.34M496.33 412.5h8.34M500.5 408.33v8.34M522.33 417.5h8.34M526.5 413.33v8.34M511.33 323.5h8.34M515.5 319.33v8.34M501.33 358.5h8.34M505.5 354.33v8.34M512.33 390.5h8.34M516.5 386.33v8.34M528.33 386.5h8.34M532.5 382.33v8.34M525.33 392.5h8.34M529.5 388.33v8.34M488.33 338.5h8.34M492.5 334.33v8.34M537.33 347.5h8.34M541.5 343.33v8.34M499.33 386.5h8.34M503.5 382.33v8.34M500.33 364.5h8.34M504.5 360.33v8.34M533.33 356.5h8.34M537.5 352.33v8.34M508.33 329.5h8.34M512.5 325.33v8.34M530.33 356.5h8.34M534.5 352.33v8.34M502.33 362.5h8.34M506.5 358.33v8.34M499.33 416.5h8.34M503.5 412.33v8.34M499.33 386.5h8.34M503.5 382.33v8.34M529.33 376.5h8.34M533.5 372.33v8.34M529.33 426.5h8.34M533.5 422.33v8.34M554.33 283.5h8.34M558.5 279.33v8.34M541.33 311.5h8.34M545.5 307.33v8.34M547.33 340.5h8.34M551.5 336.33v8.34M561.33 300.5h8.34M565.5 296.33v8.34M570.33 318.5h8.34M574.5 314.33v8.34M538.33 336.5h8.34M542.5 332.33v8.34M562.33 339.5h8.34M566.5 335.33v8.34M554.33 299.5h8.34M558.5 295.33v8.34M543.33 329.5h8.34M547.5 325.33v8.34M554.33 331.5h8.34M558.5 327.33v8.34M539.33 306.5h8.34M543.5 302.33v8.34M539.33 300.5h8.34M543.5 296.33v8.34M568.33 334.5h8.34M572.5 330.33v8.34M578.33 333.5h8.34M582.5 329.33v8.34M545.33 319.5h8.34M549.5 315.33v8.34M553.33 300.5h8.34M557.5 296.33v8.34M544.33 331.5h8.34M548.5 327.33v8.34M565.33 315.5h8.34M569.5 311.33v8.34M563.33 309.5h8.34M567.5 305.33v8.34M572.33 319.5h8.34M576.5 315.33v8.34M555.33 301.5h8.34M559.5 297.33v8.34M545.33 307.5h8.34M549.5 303.33v8.34M524.33 301.5h8.34M528.5 297.33v8.34M537.33 286.5h8.34M541.5 282.33v8.34M552.33 339.5h8.34M556.5 335.33v8.34M525.33 318.5h8.34M529.5 314.33v8.34M563.33 319.5h8.34M567.5 315.33v8.34M565.33 337.5h8.34M569.5 333.33v8.34M570.33 311.5h8.34M574.5 307.33v8.34M542.33 339.5h8.34M546.5 335.33v8.34M522.33 300.5h8.34M526.5 296.33v8.34M564.33 312.5h8.34M568.5 308.33v8.34M566.33 308.5h8.34M570.5 304.33v8.34M559.33 325.5h8.34M563.5 321.33v8.34M551.33 306.5h8.34M555.5 302.33v8.34M567.33 303.5h8.34M571.5 299.33v8.34M568.33 334.5h8.34M572.5 330.33v8.34M538.33 299.5h8.34M542.5 295.33v8.34M555.33 325.5h8.34M559.5 321.33v8.34M564.33 331.5h8.34M568.5 327.33v8.34M556.33 325.5h8.34M560.5 321.33v8.34M567.33 332.5h8.34M571.5 328.33v8.34M548.33 339.5h8.34M552.5 335.33v8.34M564.33 306.5h8.34M568.5 302.33v8.34M543.33 321.5h8.34M547.5 317.33v8.34M551.33 327.5h8.34M555.5 323.33v8.34M562.33 324.5h8.34M566.5 320.33v8.34M557.33 318.5h8.34M561.5 314.33v8.34M529.33 300.5h8.34M533.5 296.33v8.34M552.33 328.5h8.34M556.5 324.33v8.34M538.33 338.5h8.34M542.5 334.33v8.34M532.33 297.5h8.34M536.5 293.33v8.34M574.33 338.5h8.34M578.5 334.33v8.34M551.33 336.5h8.34M555.5 332.33v8.34M548.33 325.5h8.34M552.5 321.33v8.34M559.33 321.5h8.34M563.5 317.33v8.34M565.33 331.5h8.34M569.5 327.33v8.34M522.33 323.5h8.34M526.5 319.33v8.34M559.33 340.5h8.34M563.5 336.33v8.34M557.33 319.5h8.34M561.5 315.33v8.34M558.33 324.5h8.34M562.5 320.33v8.34M536.33 285.5h8.34M540.5 281.33v8.34M567.33 332.5h8.34M571.5 328.33v8.34M577.33 325.5h8.34M581.5 321.33v8.34M521.33 299.5h8.34M525.5 295.33v8.34M549.33 306.5h8.34M553.5 302.33v8.34M567.33 341.5h8.34M571.5 337.33v8.34M560.33 327.5h8.34M564.5 323.33v8.34M528.33 330.5h8.34M532.5 326.33v8.34M529.33 305.5h8.34M533.5 301.33v8.34M530.33 240.5h8.34M534.5 236.33v8.34M534.33 262.5h8.34M538.5 258.33v8.34M539.33 262.5h8.34M543.5 258.33v8.34M532.33 280.5h8.34M536.5 276.33v8.34M532.33 273.5h8.34M536.5 269.33v8.34M550.33 253.5h8.34M554.5 249.33v8.34M539.33 256.5h8.34M543.5 252.33v8.34M545.33 280.5h8.34M549.5 276.33v8.34M542.33 260.5h8.34M546.5 256.33v8.34M541.33 258.5h8.34M545.5 254.33v8.34M535.33 272.5h8.34M539.5 268.33v8.34M535.33 240.5h8.34M539.5 236.33v8.34M537.33 288.5h8.34M541.5 284.33v8.34M533.33 251.5h8.34M537.5 247.33v8.34M538.33 264.5h8.34M542.5 260.33v8.34M531.33 297.5h8.34M535.5 293.33v8.34M537.33 243.5h8.34M541.5 239.33v8.34M534.33 275.5h8.34M538.5 271.33v8.34M533.33 298.5h8.34M537.5 294.33v8.34M521.33 259.5h8.34M525.5 255.33v8.34M540.33 297.5h8.34M544.5 293.33v8.34M533.33 285.5h8.34M537.5 281.33v8.34M537.33 294.5h8.34M541.5 290.33v8.34M542.33 285.5h8.34M546.5 281.33v8.34M542.33 273.5h8.34M546.5 269.33v8.34M532.33 265.5h8.34M536.5 261.33v8.34M533.33 248.5h8.34M537.5 244.33v8.34M549.33 254.5h8.34M553.5 250.33v8.34M538.33 293.5h8.34M542.5 289.33v8.34M528.33 256.5h8.34M532.5 252.33v8.34M545.33 238.5h8.34M549.5 234.33v8.34M544.33 297.5h8.34M548.5 293.33v8.34M626.33 429.5h8.34M630.5 425.33v8.34M566.33 444.5h8.34M570.5 440.33v8.34M558.33 440.5h8.34M562.5 436.33v8.34M594.33 425.5h8.34M598.5 421.33v8.34M548.33 434.5h8.34M552.5 430.33v8.34M546.33 433.5h8.34M550.5 429.33v8.34M538.33 427.5h8.34M542.5 423.33v8.34M540.33 429.5h8.34M544.5 425.33v8.34M616.33 431.5h8.34M620.5 427.33v8.34M517.33 431.5h8.34M521.5 427.33v8.34M579.33 438.5h8.34M583.5 434.33v8.34M518.33 432.5h8.34M522.5 428.33v8.34M569.33 426.5h8.34M573.5 422.33v8.34M540.33 426.5h8.34M544.5 422.33v8.34M612.33 441.5h8.34M616.5 437.33v8.34M623.33 429.5h8.34M627.5 425.33v8.34M627.33 426.5h8.34M631.5 422.33v8.34M563.33 436.5h8.34M567.5 432.33v8.34M606.33 433.5h8.34M610.5 429.33v8.34M567.33 434.5h8.34M571.5 430.33v8.34M578.33 436.5h8.34M582.5 432.33v8.34M516.33 431.5h8.34M520.5 427.33v8.34M560.33 433.5h8.34M564.5 429.33v8.34M575.33 429.5h8.34M579.5 425.33v8.34M584.33 434.5h8.34M588.5 430.33v8.34M585.33 427.5h8.34M589.5 423.33v8.34M625.33 438.5h8.34M629.5 434.33v8.34M554.33 430.5h8.34M558.5 426.33v8.34M590.33 430.5h8.34M594.5 426.33v8.34M593.33 423.5h8.34M597.5 419.33v8.34M560.33 430.5h8.34M564.5 426.33v8.34M542.33 426.5h8.34M546.5 422.33v8.34M527.33 428.5h8.34M531.5 424.33v8.34M548.33 430.5h8.34M552.5 426.33v8.34M550.33 427.5h8.34M554.5 423.33v8.34M628.33 435.5h8.34M632.5 431.33v8.34M576.33 426.5h8.34M580.5 422.33v8.34M578.33 429.5h8.34M582.5 425.33v8.34M609.33 424.5h8.34M613.5 420.33v8.34M556.33 430.5h8.34M560.5 426.33v8.34M537.33 432.5h8.34M541.5 428.33v8.34M548.33 433.5h8.34M552.5 429.33v8.34M520.33 425.5h8.34M524.5 421.33v8.34M529.33 435.5h8.34M533.5 431.33v8.34M602.33 424.5h8.34M606.5 420.33v8.34M565.33 433.5h8.34M569.5 429.33v8.34M607.33 430.5h8.34M611.5 426.33v8.34M579.33 428.5h8.34M583.5 424.33v8.34M546.33 431.5h8.34M550.5 427.33v8.34M541.33 426.5h8.34M545.5 422.33v8.34M519.33 434.5h8.34M523.5 430.33v8.34M544.33 431.5h8.34M548.5 427.33v8.34M623.33 436.5h8.34M627.5 432.33v8.34M565.33 433.5h8.34M569.5 429.33v8.34M594.33 434.5h8.34M598.5 430.33v8.34M552.33 416.5h8.34M556.5 412.33v8.34M525.33 431.5h8.34M529.5 427.33v8.34M546.33 432.5h8.34M550.5 428.33v8.34M587.33 433.5h8.34M591.5 429.33v8.34M546.33 429.5h8.34M550.5 425.33v8.34M618.33 426.5h8.34M622.5 422.33v8.34M524.33 428.5h8.34M528.5 424.33v8.34M522.33 433.5h8.34M526.5 429.33v8.34M522.33 438.5h8.34M526.5 434.33v8.34M573.33 431.5h8.34M577.5 427.33v8.34M549.33 431.5h8.34M553.5 427.33v8.34M563.33 424.5h8.34M567.5 420.33v8.34M594.33 425.5h8.34M598.5 421.33v8.34M565.33 427.5h8.34M569.5 423.33v8.34M568.33 438.5h8.34M572.5 434.33v8.34M622.33 424.5h8.34M626.5 420.33v8.34M592.33 430.5h8.34M596.5 426.33v8.34M571.33 423.5h8.34M575.5 419.33v8.34M584.33 431.5h8.34M588.5 427.33v8.34M630.33 429.5h8.34M634.5 425.33v8.34M628.33 437.5h8.34M632.5 433.33v8.34M609.33 427.5h8.34M613.5 423.33v8.34M536.33 429.5h8.34M540.5 425.33v8.34M563.33 426.5h8.34M567.5 422.33v8.34M545.33 434.5h8.34M549.5 430.33v8.34M571.33 429.5h8.34M575.5 425.33v8.34M591.33 430.5h8.34M595.5 426.33v8.34M597.33 432.5h8.34M601.5 428.33v8.34M520.33 435.5h8.34M524.5 431.33v8.34M570.33 428.5h8.34M574.5 424.33v8.34M583.33 426.5h8.34M587.5 422.33v8.34M585.33 433.5h8.34M589.5 429.33v8.34M574.33 432.5h8.34M578.5 428.33v8.34M622.33 429.5h8.34M626.5 425.33v8.34M545.33 425.5h8.34M549.5 421.33v8.34M531.33 425.5h8.34M535.5 421.33v8.34M561.33 424.5h8.34M565.5 420.33v8.34M525.33 430.5h8.34M529.5 426.33v8.34M604.33 439.5h8.34M608.5 435.33v8.34M562.33 435.5h8.34M566.5 431.33v8.34M518.33 427.5h8.34M522.5 423.33v8.34M539.33 438.5h8.34M543.5 434.33v8.34M525.33 426.5h8.34M529.5 422.33v8.34M548.33 426.5h8.34M552.5 422.33v8.34M518.33 435.5h8.34M522.5 431.33v8.34M622.33 427.5h8.34M626.5 423.33v8.34M519.33 430.5h8.34M523.5 426.33v8.34M581.33 439.5h8.34M585.5 435.33v8.34M614.33 427.5h8.34M618.5 423.33v8.34M616.33 430.5h8.34M620.5 426.33v8.34M551.33 429.5h8.34M555.5 425.33v8.34M582.33 428.5h8.34M586.5 424.33v8.34M523.33 433.5h8.34M527.5 429.33v8.34M615.33 429.5h8.34M619.5 425.33v8.34M570.33 427.5h8.34M574.5 423.33v8.34M616.33 436.5h8.34M620.5 432.33v8.34M542.33 437.5h8.34M546.5 433.33v8.34M620.33 435.5h8.34M624.5 431.33v8.34M560.33 418.5h8.34M564.5 414.33v8.34M574.33 429.5h8.34M578.5 425.33v8.34M625.33 436.5h8.34M629.5 432.33v8.34M627.33 443.5h8.34M631.5 439.33v8.34M572.33 431.5h8.34M576.5 427.33v8.34M591.33 436.5h8.34M595.5 432.33v8.34M621.33 428.5h8.34M625.5 424.33v8.34M607.33 430.5h8.34M611.5 426.33v8.34M595.33 436.5h8.34M599.5 432.33v8.34M534.33 431.5h8.34M538.5 427.33v8.34M528.33 435.5h8.34M532.5 431.33v8.34M620.33 441.5h8.34M624.5 437.33v8.34M603.33 431.5h8.34M607.5 427.33v8.34M634.33 434.5h8.34M638.5 430.33v8.34M606.33 438.5h8.34M610.5 434.33v8.34M556.33 431.5h8.34M560.5 427.33v8.34M585.33 438.5h8.34M589.5 434.33v8.34M623.33 431.5h8.34M627.5 427.33v8.34M650.33 436.5h8.34M654.5 432.33v8.34M638.33 443.5h8.34M642.5 439.33v8.34M565.33 436.5h8.34M569.5 432.33v8.34M601.33 438.5h8.34M605.5 434.33v8.34M569.33 443.5h8.34M573.5 439.33v8.34M601.33 432.5h8.34M605.5 428.33v8.34M571.33 431.5h8.34M575.5 427.33v8.34M633.33 435.5h8.34M637.5 431.33v8.34M612.33 438.5h8.34M616.5 434.33v8.34M606.33 432.5h8.34M610.5 428.33v8.34M633.33 433.5h8.34M637.5 429.33v8.34M637.33 443.5h8.34M641.5 439.33v8.34M644.33 436.5h8.34M648.5 432.33v8.34M627.33 438.5h8.34M631.5 434.33v8.34M545.33 450.5h8.34M549.5 446.33v8.34M658.33 444.5h8.34M662.5 440.33v8.34M633.33 435.5h8.34M637.5 431.33v8.34M553.33 433.5h8.34M557.5 429.33v8.34M632.33 432.5h8.34M636.5 428.33v8.34M583.33 435.5h8.34M587.5 431.33v8.34M642.33 435.5h8.34M646.5 431.33v8.34M621.33 434.5h8.34M625.5 430.33v8.34M564.33 443.5h8.34M568.5 439.33v8.34M641.33 441.5h8.34M645.5 437.33v8.34M618.33 439.5h8.34M622.5 435.33v8.34M664.33 434.5h8.34M668.5 430.33v8.34M614.33 439.5h8.34M618.5 435.33v8.34M611.33 432.5h8.34M615.5 428.33v8.34M640.33 437.5h8.34M644.5 433.33v8.34M643.33 442.5h8.34M647.5 438.33v8.34M604.33 433.5h8.34M608.5 429.33v8.34M590.33 434.5h8.34M594.5 430.33v8.34M658.33 442.5h8.34M662.5 438.33v8.34M634.33 435.5h8.34M638.5 431.33v8.34M627.33 435.5h8.34M631.5 431.33v8.34M625.33 417.5h8.34M629.5 413.33v8.34M624.33 431.5h8.34M628.5 427.33v8.34M622.33 428.5h8.34M626.5 424.33v8.34M625.33 423.5h8.34M629.5 419.33v8.34M661.33 418.5h8.34M665.5 414.33v8.34M645.33 424.5h8.34M649.5 420.33v8.34M655.33 408.5h8.34M659.5 404.33v8.34M650.33 417.5h8.34M654.5 413.33v8.34M613.33 432.5h8.34M617.5 428.33v8.34M634.33 418.5h8.34M638.5 414.33v8.34M647.33 426.5h8.34M651.5 422.33v8.34M626.33 429.5h8.34M630.5 425.33v8.34M633.33 425.5h8.34M637.5 421.33v8.34M630.33 418.5h8.34M634.5 414.33v8.34M615.33 427.5h8.34M619.5 423.33v8.34M649.33 418.5h8.34M653.5 414.33v8.34M629.33 425.5h8.34M633.5 421.33v8.34M631.33 421.5h8.34M635.5 417.33v8.34M635.33 429.5h8.34M639.5 425.33v8.34M629.33 404.5h8.34M633.5 400.33v8.34M637.33 418.5h8.34M641.5 414.33v8.34M631.33 435.5h8.34M635.5 431.33v8.34M619.33 417.5h8.34M623.5 413.33v8.34M618.33 424.5h8.34M622.5 420.33v8.34M628.33 414.5h8.34M632.5 410.33v8.34M618.33 430.5h8.34M622.5 426.33v8.34M632.33 428.5h8.34M636.5 424.33v8.34M647.33 418.5h8.34M651.5 414.33v8.34M647.33 425.5h8.34M651.5 421.33v8.34M640.33 421.5h8.34M644.5 417.33v8.34M619.33 426.5h8.34M623.5 422.33v8.34M651.33 425.5h8.34M655.5 421.33v8.34M626.33 439.5h8.34M630.5 435.33v8.34M620.33 418.5h8.34M624.5 414.33v8.34M638.33 421.5h8.34M642.5 417.33v8.34M634.33 416.5h8.34M638.5 412.33v8.34M646.33 416.5h8.34M650.5 412.33v8.34M614.33 420.5h8.34M618.5 416.33v8.34M616.33 418.5h8.34M620.5 414.33v8.34M615.33 428.5h8.34M619.5 424.33v8.34M642.33 421.5h8.34M646.5 417.33v8.34M518.33 383.5h8.34M522.5 379.33v8.34M514.33 422.5h8.34M518.5 418.33v8.34M505.33 301.5h8.34M509.5 297.33v8.34M521.33 386.5h8.34M525.5 382.33v8.34M513.33 349.5h8.34M517.5 345.33v8.34M511.33 330.5h8.34M515.5 326.33v8.34M531.33 407.5h8.34M535.5 403.33v8.34M508.33 370.5h8.34M512.5 366.33v8.34M516.33 316.5h8.34M520.5 312.33v8.34M529.33 366.5h8.34M533.5 362.33v8.34M540.33 413.5h8.34M544.5 409.33v8.34M536.33 332.5h8.34M540.5 328.33v8.34M500.33 401.5h8.34M504.5 397.33v8.34M500.33 385.5h8.34M504.5 381.33v8.34M503.33 388.5h8.34M507.5 384.33v8.34M498.33 310.5h8.34M502.5 306.33v8.34M535.33 364.5h8.34M539.5 360.33v8.34M516.33 421.5h8.34M520.5 417.33v8.34M531.33 328.5h8.34M535.5 324.33v8.34M527.33 348.5h8.34M531.5 344.33v8.34M516.33 339.5h8.34M520.5 335.33v8.34M506.33 337.5h8.34M510.5 333.33v8.34M508.33 323.5h8.34M512.5 319.33v8.34M535.33 347.5h8.34M539.5 343.33v8.34M521.33 401.5h8.34M525.5 397.33v8.34M526.33 319.5h8.34M530.5 315.33v8.34M538.33 416.5h8.34M542.5 412.33v8.34M533.33 341.5h8.34M537.5 337.33v8.34M533.33 380.5h8.34M537.5 376.33v8.34M497.33 347.5h8.34M501.5 343.33v8.34" stroke="#00bfbf" stroke-width="0.75" fill="none"/>
<path d="M391.84 422.63l8.34 8.34M391.84 430.97l8.34 -8.34M348.26 422.64l8.34 8.34M348.26 430.98l8.34 -8.34M391.49 422.53l8.34 8.34M391.49 430.87l8.34 -8.34M322.42 423.56l8.34 8.34M322.42 431.90l8.34 -8.34M394.11 423.02l8.34 8.34M394.11 431.36l8.34 -8.34M394.02 423.32l8.34 8.34M394.02 431.66l8.34 -8.34M361.73 422.80l8.34 8.34M361.73 431.14l8.34 -8.34M388.40 422.62l8.34 8.34M388.40 430.96l8.34 -8.34M362.26 423.87l8.34 8.34M362.26 432.21l8.34 -8.34M368.84 422.73l8.34 8.34M368.84 431.07l8.34 -8.34M392.25 423.72l8.34 8.34M392.25 432.06l8.34 -8.34M389.22 422.81l8.34 8.34M389.22 431.15l8.34 -8.34M373.45 423.58l8.34 8.34M373.45 431.92l8.34 -8.34M372.41 423.41l8.34 8.34M372.41 431.75l8.34 -8.34M360.21 423.11l8.34 8.34M360.21 431.45l8.34 -8.34M372.03 422.51l8.34 8.34M372.03 430.85l8.34 -8.34M395.70 423.73l8.34 8.34M395.70 432.07l8.34 -8.34M365.53 423.42l8.34 8.34M365.53 431.76l8.34 -8.34M393.39 423.64l8.34 8.34M393.39 431.98l8.34 -8.34M387.58 424.48l8.34 8.34M387.58 432.82l8.34 -8.34M394.63 423.91l8.34 8.34M394.63 432.25l8.34 -8.34M388.09 423.26l8.34 8.34M388.09 431.60l8.34 -8.34M386.25 422.52l8.34 8.34M386.25 430.86l8.34 -8.34M352.43 423.38l8.34 8.34M352.43 431.72l8.34 -8.34M368.30 422.71l8.34 8.34M368.30 431.05l8.34 -8.34M347.33 423.92l8.34 8.34M347.33 432.26l8.34 -8.34M353.80 423.76l8.34 8.34M353.80 432.10l8.34 -8.34M361.06 423.16l8.34 8.34M361.06 431.50l8.34 -8.34M322.54 423.15l8.34 8.34M322.54 431.49l8.34 -8.34M355.95 423.28l8.34 8.34M355.95 431.62l8.34 -8.34M387.31 423.63l8.34 8.34M387.31 431.97l8.34 -8.34M369.30 423.24l8.34 8.34M369.30 431.58l8.34 -8.34M351.70 423.01l8.34 8.34M351.70 431.35l8.34 -8.34M373.40 423.95l8.34 8.34M373.40 432.29l8.34 -8.34M388.97 423.55l8.34 8.34M388.97 431.89l8.34 -8.34M392.43 423.45l8.34 8.34M392.43 431.79l8.34 -8.34M376.90 423.02l8.34 8.34M376.90 431.36l8.34 -8.34M363.43 424.07l8.34 8.34M363.43 432.41l8.34 -8.34M388.34 422.75l8.34 8.34M388.34 431.09l8.34 -8.34M313.77 423.09l8.34 8.34M313.77 431.43l8.34 -8.34M375.30 422.19l8.34 8.34M375.30 430.53l8.34 -8.34M374.44 423.80l8.34 8.34M374.44 432.14l8.34 -8.34M342.89 422.93l8.34 8.34M342.89 431.27l8.34 -8.34M384.20 424.25l8.34 8.34M384.20 432.59l8.34 -8.34M394.02 422.39l8.34 8.34M394.02 430.73l8.34 -8.34M393.96 422.91l8.34 8.34M393.96 431.25l8.34 -8.34M375.34 423.09l8.34 8.34M375.34 431.43l8.34 -8.34M368.56 423.85l8.34 8.34M368.56 432.19l8.34 -8.34M367.89 423.19l8.34 8.34M367.89 431.53l8.34 -8.34M391.12 424.18l8.34 8.34M391.12 432.52l8.34 -8.34M386.92 422.82l8.34 8.34M386.92 431.16l8.34 -8.34M340.36 423.21l8.34 8.34M340.36 431.55l8.34 -8.34M330.90 423.16l8.34 8.34M330.90 431.50l8.34 -8.34M362.35 423.97l8.34 8.34M362.35 432.31l8.34 -8.34M356.00 422.14l8.34 8.34M356.00 430.48l8.34 -8.34M393.92 423.19l8.34 8.34M393.92 431.53l8.34 -8.34M377.37 424.05l8.34 8.34M377.37 432.39l8.34 -8.34M365.44 424.25l8.34 8.34M365.44 432.59l8.34 -8.34M378.46 423.22l8.34 8.34M378.46 431.56l8.34 -8.34M326.99 423.05l8.34 8.34M326.99 431.39l8.34 -8.34M377.79 423.17l8.34 8.34M377.79 431.51l8.34 -8.34M393.90 422.63l8.34 8.34M393.90 430.97l8.34 -8.34M379.79 424.13l8.34 8.34M379.79 432.47l8.34 -8.34M353.04 422.84l8.34 8.34M353.04 431.18l8.34 -8.34M369.15 423.98l8.34 8.34M369.15 432.32l8.34 -8.34M382.41 422.98l8.34 8.34M382.41 431.32l8.34 -8.34M330.64 423.26l8.34 8.34M330.64 431.60l8.34 -8.34M381.56 424.23l8.34 8.34M381.56 432.57l8.34 -8.34M327.31 422.63l8.34 8.34M327.31 430.97l8.34 -8.34M310.98 423.75l8.34 8.34M310.98 432.09l8.34 -8.34M384.60 422.21l8.34 8.34M384.60 430.55l8.34 -8.34M388.21 423.45l8.34 8.34M388.21 431.79l8.34 -8.34M380.08 424.05l8.34 8.34M380.08 432.39l8.34 -8.34M390.16 423.84l8.34 8.34M390.16 432.18l8.34 -8.34M382.61 423.32l8.34 8.34M382.61 431.66l8.34 -8.34M386.94 423.58l8.34 8.34M386.94 431.92l8.34 -8.34M331.29 423.60l8.34 8.34M331.29 431.94l8.34 -8.34M394.31 423.53l8.34 8.34M394.31 431.87l8.34 -8.34M355.16 422.70l8.34 8.34M355.16 431.04l8.34 -8.34M386.94 422.51l8.34 8.34M386.94 430.85l8.34 -8.34M381.37 423.88l8.34 8.34M381.37 432.22l8.34 -8.34M376.77 422.97l8.34 8.34M376.77 431.31l8.34 -8.34M362.78 422.97l8.34 8.34M362.78 431.31l8.34 -8.34M364.61 424.42l8.34 8.34M364.61 432.76l8.34 -8.34M390.30 423.72l8.34 8.34M390.30 432.06l8.34 -8.34M338.70 424.09l8.34 8.34M338.70 432.43l8.34 -8.34M352.56 423.14l8.34 8.34M352.56 431.48l8.34 -8.34M388.77 423.38l8.34 8.34M388.77 431.72l8.34 -8.34M354.47 422.93l8.34 8.34M354.47 431.27l8.34 -8.34M388.94 422.88l8.34 8.34M388.94 431.22l8.34 -8.34M384.39 423.45l8.34 8.34M384.39 431.79l8.34 -8.34M383.89 423.49l8.34 8.34M383.89 431.83l8.34 -8.34M392.59 422.75l8.34 8.34M392.59 431.09l8.34 -8.34M393.66 422.96l8.34 8.34M393.66 431.30l8.34 -8.34M391.80 424.52l8.34 8.34M391.80 432.86l8.34 -8.34M354.03 422.04l8.34 8.34M354.03 430.38l8.34 -8.34M384.29 423.48l8.34 8.34M384.29 431.82l8.34 -8.34M312.15 422.31l8.34 8.34M312.15 430.65l8.34 -8.34M338.85 422.80l8.34 8.34M338.85 431.14l8.34 -8.34M350.58 422.59l8.34 8.34M350.58 430.93l8.34 -8.34M348.26 423.07l8.34 8.34M348.26 431.41l8.34 -8.34M351.10 423.52l8.34 8.34M351.10 431.86l8.34 -8.34M387.89 423.35l8.34 8.34M387.89 431.69l8.34 -8.34M394.62 424.21l8.34 8.34M394.62 432.55l8.34 -8.34M343.64 423.07l8.34 8.34M343.64 431.41l8.34 -8.34M367.28 423.77l8.34 8.34M367.28 432.11l8.34 -8.34M390.30 424.06l8.34 8.34M390.30 432.40l8.34 -8.34M396.07 423.43l8.34 8.34M396.07 431.77l8.34 -8.34M346.34 423.70l8.34 8.34M346.34 432.04l8.34 -8.34M386.79 423.12l8.34 8.34M386.79 431.46l8.34 -8.34M338.79 423.90l8.34 8.34M338.79 432.24l8.34 -8.34M363.28 422.41l8.34 8.34M363.28 430.75l8.34 -8.34M377.42 423.27l8.34 8.34M377.42 431.61l8.34 -8.34M328.59 423.13l8.34 8.34M328.59 431.47l8.34 -8.34M335.34 422.79l8.34 8.34M335.34 431.13l8.34 -8.34M382.94 423.52l8.34 8.34M382.94 431.86l8.34 -8.34M390.87 424.57l8.34 8.34M390.87 432.91l8.34 -8.34M371.13 423.45l8.34 8.34M371.13 431.79l8.34 -8.34M389.72 423.37l8.34 8.34M389.72 431.71l8.34 -8.34M391.14 422.22l8.34 8.34M391.14 430.56l8.34 -8.34M389.20 423.46l8.34 8.34M389.20 431.80l8.34 -8.34M371.42 423.59l8.34 8.34M371.42 431.93l8.34 -8.34M339.91 423.54l8.34 8.34M339.91 431.88l8.34 -8.34M380.23 423.16l8.34 8.34M380.23 431.50l8.34 -8.34M389.23 422.59l8.34 8.34M389.23 430.93l8.34 -8.34M332.62 423.55l8.34 8.34M332.62 431.89l8.34 -8.34M361.14 423.88l8.34 8.34M361.14 432.22l8.34 -8.34M342.70 423.19l8.34 8.34M342.70 431.53l8.34 -8.34M353.47 424.10l8.34 8.34M353.47 432.44l8.34 -8.34M375.82 422.48l8.34 8.34M375.82 430.82l8.34 -8.34M364.97 422.09l8.34 8.34M364.97 430.43l8.34 -8.34M388.91 422.60l8.34 8.34M388.91 430.94l8.34 -8.34M385.43 423.88l8.34 8.34M385.43 432.22l8.34 -8.34M390.08 423.77l8.34 8.34M390.08 432.11l8.34 -8.34M368.21 423.21l8.34 8.34M368.21 431.55l8.34 -8.34M391.67 422.83l8.34 8.34M391.67 431.17l8.34 -8.34M394.77 424.61l8.34 8.34M394.77 432.95l8.34 -8.34M315.96 423.83l8.34 8.34M315.96 432.17l8.34 -8.34M339.52 423.54l8.34 8.34M339.52 431.88l8.34 -8.34M382.05 423.70l8.34 8.34M382.05 432.04l8.34 -8.34M378.57 423.49l8.34 8.34M378.57 431.83l8.34 -8.34M378.31 423.67l8.34 8.34M378.31 432.01l8.34 -8.34M383.18 424.14l8.34 8.34M383.18 432.48l8.34 -8.34M340.84 422.99l8.34 8.34M340.84 431.33l8.34 -8.34M362.42 423.21l8.34 8.34M362.42 431.55l8.34 -8.34M353.40 421.51l8.34 8.34M353.40 429.85l8.34 -8.34M393.48 423.25l8.34 8.34M393.48 431.59l8.34 -8.34M390.97 422.79l8.34 8.34M390.97 431.13l8.34 -8.34M386.95 423.04l8.34 8.34M386.95 431.38l8.34 -8.34M392.27 423.24l8.34 8.34M392.27 431.58l8.34 -8.34M336.42 423.34l8.34 8.34M336.42 431.68l8.34 -8.34M371.37 422.48l8.34 8.34M371.37 430.82l8.34 -8.34M387.22 423.34l8.34 8.34M387.22 431.68l8.34 -8.34M375.33 423.50l8.34 8.34M375.33 431.84l8.34 -8.34M388.41 423.24l8.34 8.34M388.41 431.58l8.34 -8.34M311.64 423.74l8.34 8.34M311.64 432.08l8.34 -8.34M347.03 423.21l8.34 8.34M347.03 431.55l8.34 -8.34M390.49 423.62l8.34 8.34M390.49 431.96l8.34 -8.34M383.21 422.95l8.34 8.34M383.21 431.29l8.34 -8.34M391.46 422.55l8.34 8.34M391.46 430.89l8.34 -8.34M387.62 422.96l8.34 8.34M387.62 431.30l8.34 -8.34M387.06 423.19l8.34 8.34M387.06 431.53l8.34 -8.34M365.17 423.01l8.34 8.34M365.17 431.35l8.34 -8.34M395.86 422.16l8.34 8.34M395.86 430.50l8.34 -8.34M366.10 424.33l8.34 8.34M366.10 432.67l8.34 -8.34M349.88 423.61l8.34 8.34M349.88 431.95l8.34 -8.34M338.35 423.33l8.34 8.34M338.35 431.67l8.34 -8.34M374.42 424.89l8.34 8.34M374.42 433.23l8.34 -8.34M388.98 423.72l8.34 8.34M388.98 432.06l8.34 -8.34M386.45 422.40l8.34 8.34M386.45 430.74l8.34 -8.34M390.86 424.01l8.34 8.34M390.86 432.35l8.34 -8.34M367.81 424.40l8.34 8.34M367.81 432.74l8.34 -8.34M335.54 423.24l8.34 8.34M335.54 431.58l8.34 -8.34M354.50 422.20l8.34 8.34M354.50 430.54l8.34 -8.34M359.96 423.64l8.34 8.34M359.96 431.98l8.34 -8.34M357.02 423.02l8.34 8.34M357.02 431.36l8.34 -8.34M391.17 423.99l8.34 8.34M391.17 432.33l8.34 -8.34M340.11 422.78l8.34 8.34M340.11 431.12l8.34 -8.34M315.73 423.27l8.34 8.34M315.73 431.61l8.34 -8.34M358.23 422.80l8.34 8.34M358.23 431.14l8.34 -8.34M351.55 424.12l8.34 8.34M351.55 432.46l8.34 -8.34M395.21 423.13l8.34 8.34M395.21 431.47l8.34 -8.34M365.13 422.69l8.34 8.34M365.13 431.03l8.34 -8.34M364.59 422.38l8.34 8.34M364.59 430.72l8.34 -8.34M337.04 422.94l8.34 8.34M337.04 431.28l8.34 -8.34M358.30 423.75l8.34 8.34M358.30 432.09l8.34 -8.34M387.35 423.25l8.34 8.34M387.35 431.59l8.34 -8.34M363.44 423.22l8.34 8.34M363.44 431.56l8.34 -8.34M368.73 423.60l8.34 8.34M368.73 431.94l8.34 -8.34M381.71 423.34l8.34 8.34M381.71 431.68l8.34 -8.34M392.16 423.47l8.34 8.34M392.16 431.81l8.34 -8.34M378.54 424.12l8.34 8.34M378.54 432.46l8.34 -8.34M324.03 422.68l8.34 8.34M324.03 431.02l8.34 -8.34M367.87 423.01l8.34 8.34M367.87 431.35l8.34 -8.34M386.19 423.28l8.34 8.34M386.19 431.62l8.34 -8.34M393.30 423.23l8.34 8.34M393.30 431.57l8.34 -8.34M393.93 423.12l8.34 8.34M393.93 431.46l8.34 -8.34M390.93 422.83l8.34 8.34M390.93 431.17l8.34 -8.34M343.81 424.30l8.34 8.34M343.81 432.64l8.34 -8.34M389.40 424.19l8.34 8.34M389.40 432.53l8.34 -8.34M363.73 423.31l8.34 8.34M363.73 431.65l8.34 -8.34M326.35 424.28l8.34 8.34M326.35 432.62l8.34 -8.34M395.94 423.67l8.34 8.34M395.94 432.01l8.34 -8.34M381.77 423.67l8.34 8.34M381.77 432.01l8.34 -8.34M383.83 422.85l8.34 8.34M383.83 431.19l8.34 -8.34M394.87 422.93l8.34 8.34M394.87 431.27l8.34 -8.34M389.23 423.87l8.34 8.34M389.23 432.21l8.34 -8.34M393.02 423.19l8.34 8.34M393.02 431.53l8.34 -8.34M352.16 423.38l8.34 8.34M352.16 431.72l8.34 -8.34M362.91 422.05l8.34 8.34M362.91 430.39l8.34 -8.34M386.97 422.76l8.34 8.34M386.97 431.10l8.34 -8.34M390.03 423.01l8.34 8.34M390.03 431.35l8.34 -8.34M378.65 422.87l8.34 8.34M378.65 431.21l8.34 -8.34M386.46 422.45l8.34 8.34M386.46 430.79l8.34 -8.34M320.70 423.60l8.34 8.34M320.70 431.94l8.34 -8.34M361.48 423.63l8.34 8.34M361.48 431.97l8.34 -8.34M394.30 425.45l8.34 8.34M394.30 433.79l8.34 -8.34M341.26 424.58l8.34 8.34M341.26 432.92l8.34 -8.34M353.99 423.14l8.34 8.34M353.99 431.48l8.34 -8.34M369.96 423.31l8.34 8.34M369.96 431.65l8.34 -8.34M385.88 422.96l8.34 8.34M385.88 431.30l8.34 -8.34M375.08 424.36l8.34 8.34M375.08 432.70l8.34 -8.34M394.40 423.96l8.34 8.34M394.40 432.30l8.34 -8.34M378.58 422.59l8.34 8.34M378.58 430.93l8.34 -8.34M327.53 423.97l8.34 8.34M327.53 432.31l8.34 -8.34M361.65 423.95l8.34 8.34M361.65 432.29l8.34 -8.34M324.52 422.36l8.34 8.34M324.52 430.70l8.34 -8.34M365.94 422.59l8.34 8.34M365.94 430.93l8.34 -8.34M336.57 423.48l8.34 8.34M336.57 431.82l8.34 -8.34M389.02 423.27l8.34 8.34M389.02 431.61l8.34 -8.34M310.33 423.33l8.34 8.34M310.33 431.67l8.34 -8.34M396.33 422.83l8.34 8.34M396.33 431.17l8.34 -8.34M315.33 284.33l8.34 8.34M315.33 292.67l8.34 -8.34M354.33 322.33l8.34 8.34M354.33 330.67l8.34 -8.34M390.33 334.33l8.34 8.34M390.33 342.67l8.34 -8.34M361.33 339.33l8.34 8.34M361.33 347.67l8.34 -8.34" stroke="#0000ff" stroke-width="0.75" fill="none"/>
<g fill="#000"><circle cx="319.6" cy="428.1" r="4.4"/><circle cx="327.6" cy="428.1" r="4.4"/><circle cx="329.0" cy="427.9" r="4.4"/><circle cx="330.2" cy="428.6" r="4.4"/><circle cx="332.0" cy="427.6" r="4.4"/><circle cx="333.9" cy="428.1" r="4.4"/><circle cx="335.4" cy="428.3" r="4.4"/><circle cx="337.1" cy="427.8" r="4.4"/><circle cx="338.8" cy="428.0" r="4.4"/><circle cx="340.2" cy="428.1" r="4.4"/><circle cx="341.5" cy="428.1" r="4.4"/><circle cx="343.4" cy="428.4" r="4.4"/><circle cx="345.2" cy="427.8" r="4.4"/><circle cx="346.7" cy="428.3" r="4.4"/><circle cx="348.7" cy="427.9" r="4.4"/><circle cx="349.7" cy="427.9" r="4.4"/><circle cx="351.4" cy="428.0" r="4.4"/><circle cx="352.8" cy="427.7" r="4.4"/><circle cx="354.0" cy="428.1" r="4.4"/><circle cx="355.0" cy="428.1" r="4.4"/><circle cx="355.1" cy="428.0" r="4.4"/><circle cx="365.8" cy="428.0" r="4.4"/><circle cx="374.3" cy="427.9" r="4.4"/><circle cx="375.8" cy="428.2" r="4.4"/><circle cx="377.2" cy="428.0" r="4.4"/></g>
<path d="M100.5 428.45H720.5" stroke="#0000ff" stroke-width="1.4" stroke-dasharray="8.333 8.333" fill="none"/>
</g>
<path d="M100.50 540.5v-6.0M183.50 540.5v-6.0M265.50 540.5v-6.0M348.50 540.5v-6.0M431.50 540.5v-6.0M513.50 540.5v-6.0M596.50 540.5v-6.0M679.50 540.5v-6.0M140.50 60.5v6.0M223.50 60.5v6.0M305.50 60.5v6.0M388.50 60.5v6.0M471.50 60.5v6.0M553.50 60.5v6.0M636.50 60.5v6.0M719.50 60.5v6.0M100.5 60.5h6.0M720.5 60.5h-6.0M100.5 180.5h6.0M720.5 180.5h-6.0M100.5 300.5h6.0M720.5 300.5h-6.0M100.5 420.5h6.0M720.5 420.5h-6.0M100.5 540.5h6.0M720.5 540.5h-6.0" stroke="#000" stroke-width="0.72" fill="none"/>
<rect x="100.5" y="60.5" width="620" height="480" fill="none" stroke="#000" stroke-width="1"/>
<rect x="398.5" y="70.5" width="312" height="122" fill="#fff" stroke="#000" stroke-width="1"/>
<path d="M408.33 86.5h8.34M412.5 82.33v8.34M436.33 86.5h8.34M440.5 82.33v8.34" stroke="#00bfbf" stroke-width="0.75" fill="none"/>
<path d="M408.33 111.43l8.34 8.34M408.33 119.77l8.34 -8.34M436.33 111.43l8.34 8.34M436.33 119.77l8.34 -8.34" stroke="#0000ff" stroke-width="0.75" fill="none"/>
<circle cx="412.5" cy="144.3" r="4.3"/><circle cx="440.5" cy="144.3" r="4.3"/>
<path d="M412.5 173.3H440.5" stroke="#0000ff" stroke-width="1.4" stroke-dasharray="8.333 8.333" fill="none"/>
<g opacity="0.999">
<text y="560.0" font-size="17.7"><tspan x="83.15" textLength="12.593" lengthAdjust="spacingAndGlyphs">−</tspan><tspan x="96.80" textLength="9.473" lengthAdjust="spacingAndGlyphs">2</tspan><tspan x="107.43" textLength="9.804" lengthAdjust="spacingAndGlyphs">0</tspan></text>
<text y="560.0" font-size="17.7"><tspan x="165.84" textLength="12.593" lengthAdjust="spacingAndGlyphs">−</tspan><tspan x="179.71" textLength="9.323" lengthAdjust="spacingAndGlyphs">1</tspan><tspan x="190.11" textLength="9.861" lengthAdjust="spacingAndGlyphs">8</tspan></text>
<text y="560.0" font-size="17.7"><tspan x="248.47" textLength="12.593" lengthAdjust="spacingAndGlyphs">−</tspan><tspan x="262.34" textLength="9.323" lengthAdjust="spacingAndGlyphs">1</tspan><tspan x="272.63" textLength="10.071" lengthAdjust="spacingAndGlyphs">6</tspan></text>
<text y="560.0" font-size="17.7"><tspan x="331.07" textLength="12.593" lengthAdjust="spacingAndGlyphs">−</tspan><tspan x="344.94" textLength="9.323" lengthAdjust="spacingAndGlyphs">1</tspan><tspan x="355.37" textLength="9.775" lengthAdjust="spacingAndGlyphs">4</tspan></text>
<text y="560.0" font-size="17.7"><tspan x="414.09" textLength="12.593" lengthAdjust="spacingAndGlyphs">−</tspan><tspan x="427.96" textLength="9.323" lengthAdjust="spacingAndGlyphs">1</tspan><tspan x="438.35" textLength="9.473" lengthAdjust="spacingAndGlyphs">2</tspan></text>
<text y="560.0" font-size="17.7"><tspan x="496.49" textLength="12.593" lengthAdjust="spacingAndGlyphs">−</tspan><tspan x="510.36" textLength="9.323" lengthAdjust="spacingAndGlyphs">1</tspan><tspan x="520.76" textLength="9.804" lengthAdjust="spacingAndGlyphs">0</tspan></text>
<text y="560.0" font-size="17.7"><tspan x="584.49" textLength="12.593" lengthAdjust="spacingAndGlyphs">−</tspan><tspan x="598.15" textLength="9.861" lengthAdjust="spacingAndGlyphs">8</tspan></text>
<text y="560.0" font-size="17.7"><tspan x="667.11" textLength="12.593" lengthAdjust="spacingAndGlyphs">−</tspan><tspan x="680.67" textLength="10.071" lengthAdjust="spacingAndGlyphs">6</tspan></text>
<text y="49.9" font-size="17.7"><tspan x="129.81" textLength="9.323" lengthAdjust="spacingAndGlyphs">1</tspan><tspan x="140.24" textLength="9.775" lengthAdjust="spacingAndGlyphs">4</tspan></text>
<text y="49.9" font-size="17.7"><tspan x="212.54" textLength="9.323" lengthAdjust="spacingAndGlyphs">1</tspan><tspan x="222.83" textLength="10.071" lengthAdjust="spacingAndGlyphs">6</tspan></text>
<text y="49.9" font-size="17.7"><tspan x="295.25" textLength="9.323" lengthAdjust="spacingAndGlyphs">1</tspan><tspan x="305.65" textLength="9.861" lengthAdjust="spacingAndGlyphs">8</tspan></text>
<text y="49.9" font-size="17.7"><tspan x="377.99" textLength="9.473" lengthAdjust="spacingAndGlyphs">2</tspan><tspan x="388.62" textLength="9.804" lengthAdjust="spacingAndGlyphs">0</tspan></text>
<text y="49.9" font-size="17.7"><tspan x="460.93" textLength="9.473" lengthAdjust="spacingAndGlyphs">2</tspan><tspan x="471.53" textLength="9.473" lengthAdjust="spacingAndGlyphs">2</tspan></text>
<text y="49.9" font-size="17.7"><tspan x="543.24" textLength="9.473" lengthAdjust="spacingAndGlyphs">2</tspan><tspan x="553.88" textLength="9.775" lengthAdjust="spacingAndGlyphs">4</tspan></text>
<text y="49.9" font-size="17.7"><tspan x="625.97" textLength="9.473" lengthAdjust="spacingAndGlyphs">2</tspan><tspan x="636.48" textLength="10.071" lengthAdjust="spacingAndGlyphs">6</tspan></text>
<text y="49.9" font-size="17.7"><tspan x="708.68" textLength="9.473" lengthAdjust="spacingAndGlyphs">2</tspan><tspan x="719.30" textLength="9.861" lengthAdjust="spacingAndGlyphs">8</tspan></text>
<text y="64.7" font-size="17.7"><tspan x="75.13" textLength="9.473" lengthAdjust="spacingAndGlyphs">2</tspan><tspan x="85.76" textLength="9.804" lengthAdjust="spacingAndGlyphs">0</tspan></text>
<text y="184.7" font-size="17.7"><tspan x="75.68" textLength="9.323" lengthAdjust="spacingAndGlyphs">1</tspan><tspan x="86.34" textLength="9.221" lengthAdjust="spacingAndGlyphs">5</tspan></text>
<text y="304.7" font-size="17.7"><tspan x="75.35" textLength="9.323" lengthAdjust="spacingAndGlyphs">1</tspan><tspan x="85.76" textLength="9.804" lengthAdjust="spacingAndGlyphs">0</tspan></text>
<text y="424.7" font-size="17.7"><tspan x="86.36" textLength="9.221" lengthAdjust="spacingAndGlyphs">5</tspan></text>
<text y="544.7" font-size="17.7"><tspan x="85.78" textLength="9.804" lengthAdjust="spacingAndGlyphs">0</tspan></text>
<text y="29.0" font-size="20.9"><tspan x="302.48" textLength="10.526" lengthAdjust="spacingAndGlyphs">F</tspan><tspan x="314.01" textLength="18.625" lengthAdjust="spacingAndGlyphs">W</tspan><tspan x="333.53" textLength="14.444" lengthAdjust="spacingAndGlyphs">H</tspan><tspan x="348.57" textLength="16.660" lengthAdjust="spacingAndGlyphs">M</tspan> <tspan x="372.43" textLength="10.758" lengthAdjust="spacingAndGlyphs">v</tspan><tspan x="384.29" textLength="9.543" lengthAdjust="spacingAndGlyphs">s</tspan> <tspan x="400.75" textLength="19.040" lengthAdjust="spacingAndGlyphs">m</tspan><tspan x="420.42" textLength="9.989" lengthAdjust="spacingAndGlyphs">a</tspan><tspan x="432.41" textLength="12.112" lengthAdjust="spacingAndGlyphs">g</tspan><tspan x="445.27" textLength="12.039" lengthAdjust="spacingAndGlyphs">n</tspan><tspan x="458.12" textLength="4.571" lengthAdjust="spacingAndGlyphs">i</tspan><tspan x="463.31" textLength="7.409" lengthAdjust="spacingAndGlyphs">t</tspan><tspan x="471.31" textLength="11.974" lengthAdjust="spacingAndGlyphs">u</tspan><tspan x="483.86" textLength="12.112" lengthAdjust="spacingAndGlyphs">d</tspan><tspan x="496.56" textLength="12.011" lengthAdjust="spacingAndGlyphs">e</tspan><tspan x="509.26" textLength="9.543" lengthAdjust="spacingAndGlyphs">s</tspan></text>
<text y="583.9" font-size="17.4"><tspan x="264.31" textLength="15.867" lengthAdjust="spacingAndGlyphs">m</tspan><tspan x="280.70" textLength="8.325" lengthAdjust="spacingAndGlyphs">a</tspan><tspan x="290.70" textLength="10.094" lengthAdjust="spacingAndGlyphs">g</tspan><tspan x="301.41" textLength="10.033" lengthAdjust="spacingAndGlyphs">n</tspan><tspan x="312.12" textLength="3.809" lengthAdjust="spacingAndGlyphs">i</tspan><tspan x="316.45" textLength="6.175" lengthAdjust="spacingAndGlyphs">t</tspan><tspan x="323.11" textLength="9.979" lengthAdjust="spacingAndGlyphs">u</tspan><tspan x="333.57" textLength="10.094" lengthAdjust="spacingAndGlyphs">d</tspan><tspan x="344.15" textLength="10.009" lengthAdjust="spacingAndGlyphs">e</tspan> <tspan x="360.09" textLength="4.712" lengthAdjust="spacingAndGlyphs">(</tspan><tspan x="366.38" textLength="10.094" lengthAdjust="spacingAndGlyphs">b</tspan><tspan x="376.80" textLength="9.858" lengthAdjust="spacingAndGlyphs">o</tspan><tspan x="386.96" textLength="6.175" lengthAdjust="spacingAndGlyphs">t</tspan><tspan x="393.49" textLength="6.175" lengthAdjust="spacingAndGlyphs">t</tspan><tspan x="400.07" textLength="9.858" lengthAdjust="spacingAndGlyphs">o</tspan><tspan x="410.32" textLength="15.867" lengthAdjust="spacingAndGlyphs">m</tspan><tspan x="426.72" textLength="4.868" lengthAdjust="spacingAndGlyphs">:</tspan><tspan x="432.38" textLength="3.809" lengthAdjust="spacingAndGlyphs">i</tspan><tspan x="437.06" textLength="7.953" lengthAdjust="spacingAndGlyphs">s</tspan><tspan x="445.55" textLength="10.033" lengthAdjust="spacingAndGlyphs">n</tspan><tspan x="455.96" textLength="6.175" lengthAdjust="spacingAndGlyphs">t</tspan> <tspan x="467.67" textLength="5.632" lengthAdjust="spacingAndGlyphs">/</tspan> <tspan x="478.70" textLength="6.175" lengthAdjust="spacingAndGlyphs">t</tspan><tspan x="485.28" textLength="9.858" lengthAdjust="spacingAndGlyphs">o</tspan><tspan x="495.63" textLength="10.094" lengthAdjust="spacingAndGlyphs">p</tspan><tspan x="506.27" textLength="4.868" lengthAdjust="spacingAndGlyphs">:</tspan><tspan x="511.71" textLength="8.382" lengthAdjust="spacingAndGlyphs">c</tspan><tspan x="521.03" textLength="8.325" lengthAdjust="spacingAndGlyphs">a</tspan><tspan x="531.31" textLength="3.809" lengthAdjust="spacingAndGlyphs">l</tspan><tspan x="535.94" textLength="3.809" lengthAdjust="spacingAndGlyphs">i</tspan><tspan x="540.47" textLength="10.094" lengthAdjust="spacingAndGlyphs">b</tspan><tspan x="551.95" textLength="4.712" lengthAdjust="spacingAndGlyphs">)</tspan></text>
<text transform="translate(63.7,346.6) rotate(-90)" y="0" font-size="17.4"><tspan x="-1.18" textLength="8.771" lengthAdjust="spacingAndGlyphs">F</tspan><tspan x="8.42" textLength="15.521" lengthAdjust="spacingAndGlyphs">W</tspan><tspan x="24.69" textLength="12.037" lengthAdjust="spacingAndGlyphs">H</tspan><tspan x="37.22" textLength="13.884" lengthAdjust="spacingAndGlyphs">M</tspan> <tspan x="57.19" textLength="4.712" lengthAdjust="spacingAndGlyphs">(</tspan><tspan x="63.48" textLength="10.094" lengthAdjust="spacingAndGlyphs">p</tspan><tspan x="74.16" textLength="3.809" lengthAdjust="spacingAndGlyphs">i</tspan><tspan x="78.64" textLength="9.255" lengthAdjust="spacingAndGlyphs">x</tspan><tspan x="89.46" textLength="4.712" lengthAdjust="spacingAndGlyphs">)</tspan></text>
<text y="92.9" font-size="20.9"><tspan x="462.24" textLength="9.989" lengthAdjust="spacingAndGlyphs">a</tspan><tspan x="474.57" textLength="4.571" lengthAdjust="spacingAndGlyphs">l</tspan><tspan x="480.12" textLength="4.571" lengthAdjust="spacingAndGlyphs">l</tspan> <tspan x="492.10" textLength="9.543" lengthAdjust="spacingAndGlyphs">s</tspan><tspan x="502.39" textLength="9.989" lengthAdjust="spacingAndGlyphs">a</tspan><tspan x="514.46" textLength="19.040" lengthAdjust="spacingAndGlyphs">m</tspan><tspan x="534.07" textLength="12.112" lengthAdjust="spacingAndGlyphs">p</tspan><tspan x="546.89" textLength="4.571" lengthAdjust="spacingAndGlyphs">l</tspan><tspan x="552.12" textLength="12.011" lengthAdjust="spacingAndGlyphs">e</tspan></text>
<text y="121.85" font-size="20.9"><tspan x="462.38" textLength="9.543" lengthAdjust="spacingAndGlyphs">s</tspan><tspan x="472.66" textLength="9.989" lengthAdjust="spacingAndGlyphs">a</tspan><tspan x="484.73" textLength="19.040" lengthAdjust="spacingAndGlyphs">m</tspan><tspan x="504.34" textLength="12.112" lengthAdjust="spacingAndGlyphs">p</tspan><tspan x="517.17" textLength="4.571" lengthAdjust="spacingAndGlyphs">l</tspan><tspan x="522.39" textLength="12.011" lengthAdjust="spacingAndGlyphs">e</tspan> <tspan x="540.93" textLength="7.339" lengthAdjust="spacingAndGlyphs">f</tspan><tspan x="548.11" textLength="11.830" lengthAdjust="spacingAndGlyphs">o</tspan><tspan x="560.29" textLength="8.507" lengthAdjust="spacingAndGlyphs">r</tspan> <tspan x="574.87" textLength="8.507" lengthAdjust="spacingAndGlyphs">r</tspan><tspan x="582.71" textLength="11.830" lengthAdjust="spacingAndGlyphs">o</tspan><tspan x="595.05" textLength="11.974" lengthAdjust="spacingAndGlyphs">u</tspan><tspan x="607.60" textLength="12.112" lengthAdjust="spacingAndGlyphs">g</tspan><tspan x="620.40" textLength="12.111" lengthAdjust="spacingAndGlyphs">h</tspan> <tspan x="639.69" textLength="10.526" lengthAdjust="spacingAndGlyphs">F</tspan><tspan x="651.21" textLength="18.625" lengthAdjust="spacingAndGlyphs">W</tspan><tspan x="670.74" textLength="14.444" lengthAdjust="spacingAndGlyphs">H</tspan><tspan x="685.78" textLength="16.660" lengthAdjust="spacingAndGlyphs">M</tspan></text>
<text y="150.8" font-size="20.9"><tspan x="461.95" textLength="10.058" lengthAdjust="spacingAndGlyphs">c</tspan><tspan x="472.89" textLength="11.830" lengthAdjust="spacingAndGlyphs">o</tspan><tspan x="485.37" textLength="9.989" lengthAdjust="spacingAndGlyphs">a</tspan><tspan x="497.33" textLength="8.507" lengthAdjust="spacingAndGlyphs">r</tspan><tspan x="505.99" textLength="9.543" lengthAdjust="spacingAndGlyphs">s</tspan><tspan x="516.01" textLength="12.011" lengthAdjust="spacingAndGlyphs">e</tspan> <tspan x="534.98" textLength="11.837" lengthAdjust="spacingAndGlyphs">P</tspan><tspan x="547.05" textLength="11.896" lengthAdjust="spacingAndGlyphs">S</tspan><tspan x="559.78" textLength="10.526" lengthAdjust="spacingAndGlyphs">F</tspan><tspan x="570.73" textLength="7.204" lengthAdjust="spacingAndGlyphs">-</tspan><tspan x="578.48" textLength="4.571" lengthAdjust="spacingAndGlyphs">l</tspan><tspan x="584.04" textLength="4.571" lengthAdjust="spacingAndGlyphs">i</tspan><tspan x="589.37" textLength="11.214" lengthAdjust="spacingAndGlyphs">k</tspan><tspan x="600.14" textLength="12.011" lengthAdjust="spacingAndGlyphs">e</tspan> <tspan x="619.19" textLength="9.543" lengthAdjust="spacingAndGlyphs">s</tspan><tspan x="629.47" textLength="9.989" lengthAdjust="spacingAndGlyphs">a</tspan><tspan x="641.55" textLength="19.040" lengthAdjust="spacingAndGlyphs">m</tspan><tspan x="661.16" textLength="12.112" lengthAdjust="spacingAndGlyphs">p</tspan><tspan x="673.98" textLength="4.571" lengthAdjust="spacingAndGlyphs">l</tspan><tspan x="679.21" textLength="12.011" lengthAdjust="spacingAndGlyphs">e</tspan></text>
<text y="179.75" font-size="20.9"><tspan x="462.20" textLength="7.409" lengthAdjust="spacingAndGlyphs">t</tspan><tspan x="470.07" textLength="12.011" lengthAdjust="spacingAndGlyphs">e</tspan><tspan x="482.54" textLength="12.039" lengthAdjust="spacingAndGlyphs">n</tspan><tspan x="495.02" textLength="7.409" lengthAdjust="spacingAndGlyphs">t</tspan><tspan x="503.15" textLength="9.989" lengthAdjust="spacingAndGlyphs">a</tspan><tspan x="515.12" textLength="7.409" lengthAdjust="spacingAndGlyphs">t</tspan><tspan x="523.32" textLength="4.571" lengthAdjust="spacingAndGlyphs">i</tspan><tspan x="528.92" textLength="10.758" lengthAdjust="spacingAndGlyphs">v</tspan><tspan x="540.39" textLength="12.011" lengthAdjust="spacingAndGlyphs">e</tspan> <tspan x="559.40" textLength="10.526" lengthAdjust="spacingAndGlyphs">F</tspan><tspan x="570.92" textLength="18.625" lengthAdjust="spacingAndGlyphs">W</tspan><tspan x="590.45" textLength="14.444" lengthAdjust="spacingAndGlyphs">H</tspan><tspan x="605.49" textLength="16.660" lengthAdjust="spacingAndGlyphs">M</tspan></text>
</g>
</svg>
</body></html>
